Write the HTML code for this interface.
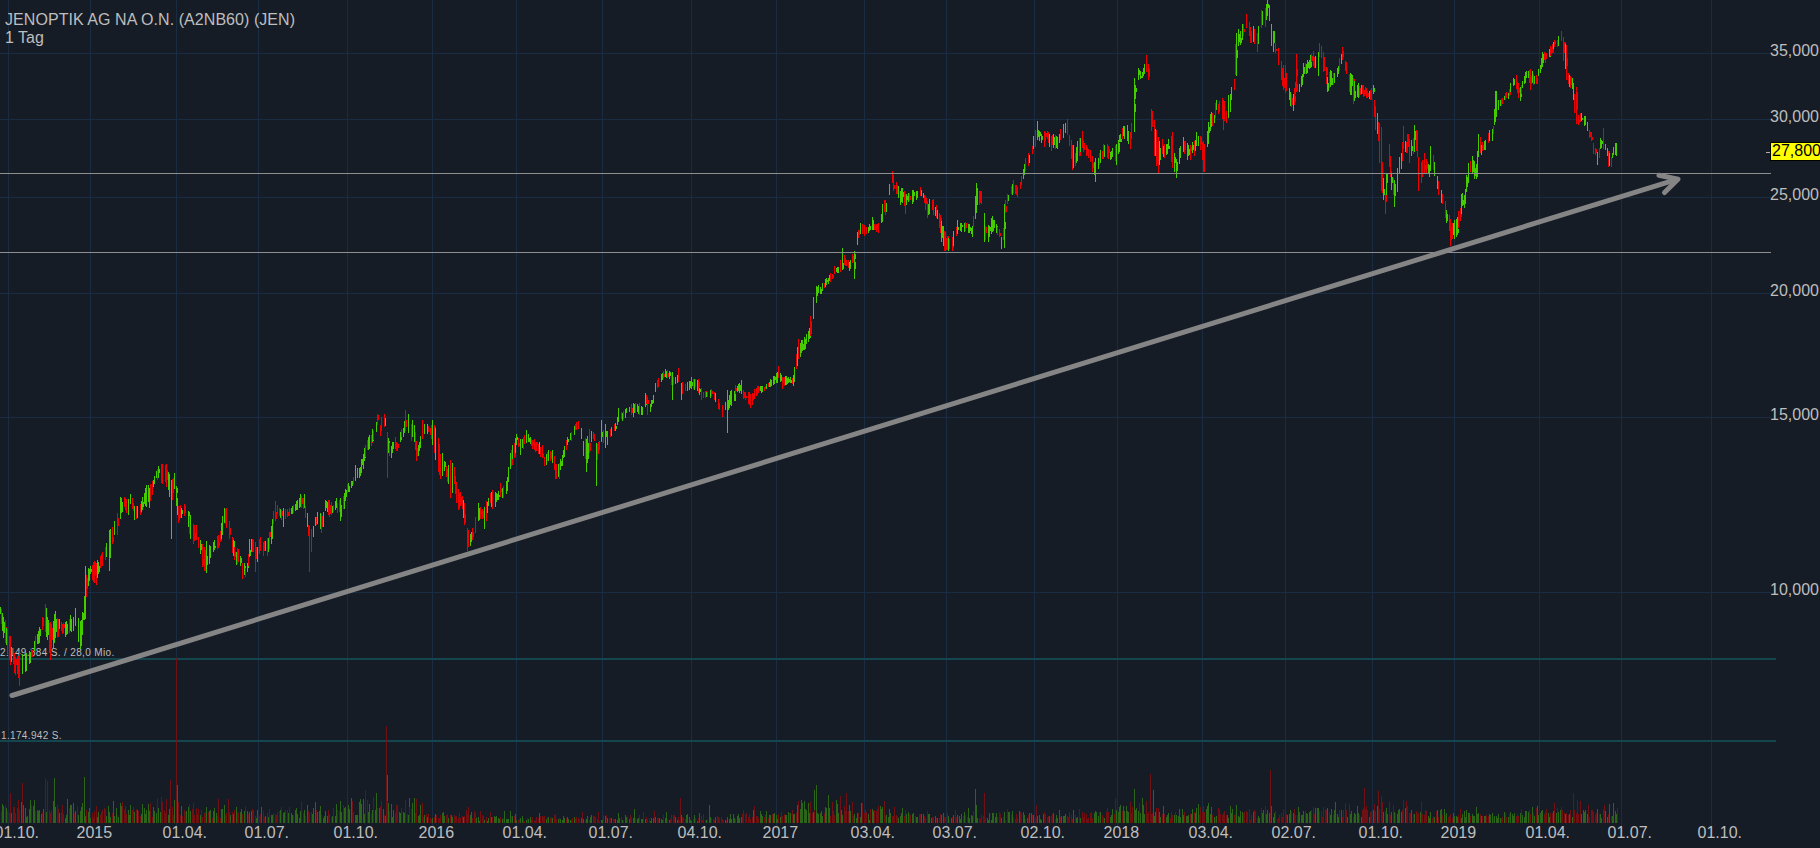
<!DOCTYPE html>
<html><head><meta charset="utf-8"><title>JENOPTIK AG NA O.N. (A2NB60) (JEN)</title>
<style>html,body{margin:0;padding:0;background:#161c26;overflow:hidden}svg{display:block}.g{fill:#44cc00}.r{fill:#ee0000}text{font-family:"Liberation Sans",Arial,sans-serif}</style></head>
<body><svg width="1820" height="848" viewBox="0 0 1820 848" shape-rendering="crispEdges">
<rect width="1820" height="848" fill="#161c26"/><g fill="#1a2c42"><rect x="8" y="0" width="1" height="830"/><rect x="90" y="0" width="1" height="830"/><rect x="176" y="0" width="1" height="830"/><rect x="258" y="0" width="1" height="830"/><rect x="347" y="0" width="1" height="830"/><rect x="432" y="0" width="1" height="830"/><rect x="516" y="0" width="1" height="830"/><rect x="602" y="0" width="1" height="830"/><rect x="691" y="0" width="1" height="830"/><rect x="776" y="0" width="1" height="830"/><rect x="864" y="0" width="1" height="830"/><rect x="946" y="0" width="1" height="830"/><rect x="1034" y="0" width="1" height="830"/><rect x="1117" y="0" width="1" height="830"/><rect x="1202" y="0" width="1" height="830"/><rect x="1285" y="0" width="1" height="830"/><rect x="1372" y="0" width="1" height="830"/><rect x="1454" y="0" width="1" height="830"/><rect x="1539" y="0" width="1" height="830"/><rect x="1621" y="0" width="1" height="830"/><rect x="1711" y="0" width="1" height="830"/><rect x="0" y="53" width="1771" height="1"/><rect x="0" y="119" width="1771" height="1"/><rect x="0" y="197" width="1771" height="1"/><rect x="0" y="293" width="1771" height="1"/><rect x="0" y="417" width="1771" height="1"/><rect x="0" y="592" width="1771" height="1"/></g><g fill="#14464f"><rect x="0" y="658" width="1776" height="2"/><rect x="0" y="740" width="1776" height="2"/></g><g fill="#2c6419"><rect x="2" y="804" width="1" height="19"/><rect x="3" y="806" width="1" height="17"/><rect x="6" y="808" width="1" height="15"/><rect x="11" y="813" width="1" height="10"/><rect x="21" y="802" width="1" height="21"/><rect x="22" y="802" width="1" height="21"/><rect x="23" y="805" width="1" height="18"/><rect x="25" y="808" width="1" height="15"/><rect x="26" y="817" width="1" height="6"/><rect x="27" y="816" width="1" height="7"/><rect x="29" y="809" width="1" height="14"/><rect x="30" y="800" width="1" height="23"/><rect x="33" y="806" width="1" height="17"/><rect x="34" y="800" width="1" height="23"/><rect x="37" y="810" width="1" height="13"/><rect x="38" y="811" width="1" height="12"/><rect x="39" y="810" width="1" height="13"/><rect x="41" y="814" width="1" height="9"/><rect x="43" y="809" width="1" height="14"/><rect x="46" y="812" width="1" height="11"/><rect x="47" y="815" width="1" height="8"/><rect x="53" y="801" width="1" height="22"/><rect x="54" y="778" width="1" height="45"/><rect x="55" y="807" width="1" height="16"/><rect x="59" y="813" width="1" height="10"/><rect x="65" y="818" width="1" height="5"/><rect x="66" y="815" width="1" height="8"/><rect x="67" y="799" width="1" height="24"/><rect x="70" y="805" width="1" height="18"/><rect x="71" y="805" width="1" height="18"/><rect x="73" y="803" width="1" height="20"/><rect x="75" y="811" width="1" height="12"/><rect x="78" y="815" width="1" height="8"/><rect x="80" y="811" width="1" height="12"/><rect x="81" y="807" width="1" height="16"/><rect x="82" y="803" width="1" height="20"/><rect x="84" y="814" width="1" height="9"/><rect x="85" y="816" width="1" height="7"/><rect x="88" y="812" width="1" height="11"/><rect x="89" y="808" width="1" height="15"/><rect x="90" y="818" width="1" height="5"/><rect x="97" y="817" width="1" height="6"/><rect x="98" y="812" width="1" height="11"/><rect x="106" y="816" width="1" height="7"/><rect x="108" y="806" width="1" height="17"/><rect x="109" y="812" width="1" height="11"/><rect x="110" y="817" width="1" height="6"/><rect x="113" y="801" width="1" height="22"/><rect x="114" y="816" width="1" height="7"/><rect x="116" y="808" width="1" height="15"/><rect x="118" y="817" width="1" height="6"/><rect x="120" y="803" width="1" height="20"/><rect x="121" y="806" width="1" height="17"/><rect x="128" y="810" width="1" height="13"/><rect x="129" y="815" width="1" height="8"/><rect x="130" y="805" width="1" height="18"/><rect x="134" y="812" width="1" height="11"/><rect x="137" y="810" width="1" height="13"/><rect x="141" y="814" width="1" height="9"/><rect x="142" y="804" width="1" height="19"/><rect x="144" y="808" width="1" height="15"/><rect x="145" y="814" width="1" height="9"/><rect x="146" y="810" width="1" height="13"/><rect x="148" y="804" width="1" height="19"/><rect x="149" y="811" width="1" height="12"/><rect x="153" y="807" width="1" height="16"/><rect x="154" y="811" width="1" height="12"/><rect x="156" y="813" width="1" height="10"/><rect x="158" y="808" width="1" height="15"/><rect x="160" y="812" width="1" height="11"/><rect x="168" y="815" width="1" height="8"/><rect x="169" y="809" width="1" height="14"/><rect x="174" y="800" width="1" height="23"/><rect x="176" y="800" width="1" height="23"/><rect x="177" y="817" width="1" height="6"/><rect x="181" y="806" width="1" height="17"/><rect x="186" y="811" width="1" height="12"/><rect x="188" y="807" width="1" height="16"/><rect x="190" y="811" width="1" height="12"/><rect x="200" y="815" width="1" height="8"/><rect x="206" y="807" width="1" height="16"/><rect x="209" y="811" width="1" height="12"/><rect x="210" y="810" width="1" height="13"/><rect x="213" y="811" width="1" height="12"/><rect x="214" y="808" width="1" height="15"/><rect x="216" y="813" width="1" height="10"/><rect x="221" y="809" width="1" height="14"/><rect x="222" y="809" width="1" height="14"/><rect x="224" y="805" width="1" height="18"/><rect x="230" y="815" width="1" height="8"/><rect x="233" y="814" width="1" height="9"/><rect x="236" y="807" width="1" height="16"/><rect x="240" y="812" width="1" height="11"/><rect x="241" y="809" width="1" height="14"/><rect x="244" y="811" width="1" height="12"/><rect x="247" y="811" width="1" height="12"/><rect x="249" y="812" width="1" height="11"/><rect x="251" y="811" width="1" height="12"/><rect x="256" y="818" width="1" height="5"/><rect x="257" y="810" width="1" height="13"/><rect x="261" y="807" width="1" height="16"/><rect x="265" y="816" width="1" height="7"/><rect x="268" y="817" width="1" height="6"/><rect x="271" y="815" width="1" height="8"/><rect x="272" y="815" width="1" height="8"/><rect x="280" y="810" width="1" height="13"/><rect x="283" y="813" width="1" height="10"/><rect x="284" y="812" width="1" height="11"/><rect x="288" y="813" width="1" height="10"/><rect x="291" y="813" width="1" height="10"/><rect x="292" y="815" width="1" height="8"/><rect x="295" y="810" width="1" height="13"/><rect x="296" y="808" width="1" height="15"/><rect x="297" y="814" width="1" height="9"/><rect x="299" y="818" width="1" height="5"/><rect x="300" y="811" width="1" height="12"/><rect x="304" y="810" width="1" height="13"/><rect x="307" y="805" width="1" height="18"/><rect x="312" y="814" width="1" height="9"/><rect x="313" y="808" width="1" height="15"/><rect x="315" y="802" width="1" height="21"/><rect x="317" y="812" width="1" height="11"/><rect x="319" y="811" width="1" height="12"/><rect x="320" y="806" width="1" height="17"/><rect x="323" y="818" width="1" height="5"/><rect x="324" y="816" width="1" height="7"/><rect x="325" y="811" width="1" height="12"/><rect x="327" y="816" width="1" height="7"/><rect x="332" y="816" width="1" height="7"/><rect x="335" y="816" width="1" height="7"/><rect x="336" y="804" width="1" height="19"/><rect x="340" y="801" width="1" height="22"/><rect x="341" y="812" width="1" height="11"/><rect x="344" y="808" width="1" height="15"/><rect x="345" y="807" width="1" height="16"/><rect x="348" y="805" width="1" height="18"/><rect x="349" y="809" width="1" height="14"/><rect x="351" y="798" width="1" height="25"/><rect x="355" y="815" width="1" height="8"/><rect x="356" y="815" width="1" height="8"/><rect x="357" y="815" width="1" height="8"/><rect x="359" y="802" width="1" height="21"/><rect x="360" y="799" width="1" height="24"/><rect x="361" y="804" width="1" height="19"/><rect x="363" y="799" width="1" height="24"/><rect x="364" y="814" width="1" height="9"/><rect x="368" y="812" width="1" height="11"/><rect x="369" y="804" width="1" height="19"/><rect x="372" y="810" width="1" height="13"/><rect x="375" y="810" width="1" height="13"/><rect x="376" y="793" width="1" height="30"/><rect x="379" y="808" width="1" height="15"/><rect x="383" y="809" width="1" height="14"/><rect x="385" y="816" width="1" height="7"/><rect x="388" y="803" width="1" height="20"/><rect x="391" y="804" width="1" height="19"/><rect x="392" y="817" width="1" height="6"/><rect x="393" y="810" width="1" height="13"/><rect x="399" y="812" width="1" height="11"/><rect x="400" y="813" width="1" height="10"/><rect x="403" y="812" width="1" height="11"/><rect x="404" y="813" width="1" height="10"/><rect x="408" y="815" width="1" height="8"/><rect x="412" y="803" width="1" height="20"/><rect x="414" y="798" width="1" height="25"/><rect x="418" y="816" width="1" height="7"/><rect x="419" y="815" width="1" height="8"/><rect x="420" y="805" width="1" height="18"/><rect x="424" y="815" width="1" height="8"/><rect x="427" y="817" width="1" height="6"/><rect x="432" y="818" width="1" height="5"/><rect x="435" y="814" width="1" height="9"/><rect x="442" y="813" width="1" height="10"/><rect x="443" y="812" width="1" height="11"/><rect x="444" y="816" width="1" height="7"/><rect x="448" y="818" width="1" height="5"/><rect x="451" y="815" width="1" height="8"/><rect x="452" y="817" width="1" height="6"/><rect x="463" y="817" width="1" height="6"/><rect x="470" y="815" width="1" height="8"/><rect x="471" y="812" width="1" height="11"/><rect x="476" y="818" width="1" height="5"/><rect x="478" y="817" width="1" height="6"/><rect x="479" y="821" width="1" height="2"/><rect x="484" y="820" width="1" height="3"/><rect x="487" y="821" width="1" height="2"/><rect x="488" y="818" width="1" height="5"/><rect x="491" y="817" width="1" height="6"/><rect x="494" y="816" width="1" height="7"/><rect x="495" y="817" width="1" height="6"/><rect x="496" y="816" width="1" height="7"/><rect x="498" y="818" width="1" height="5"/><rect x="499" y="819" width="1" height="4"/><rect x="502" y="819" width="1" height="4"/><rect x="504" y="811" width="1" height="12"/><rect x="506" y="819" width="1" height="4"/><rect x="507" y="819" width="1" height="4"/><rect x="508" y="819" width="1" height="4"/><rect x="510" y="811" width="1" height="12"/><rect x="512" y="816" width="1" height="7"/><rect x="515" y="814" width="1" height="9"/><rect x="516" y="820" width="1" height="3"/><rect x="520" y="818" width="1" height="5"/><rect x="522" y="816" width="1" height="7"/><rect x="526" y="820" width="1" height="3"/><rect x="528" y="819" width="1" height="4"/><rect x="530" y="817" width="1" height="6"/><rect x="539" y="813" width="1" height="10"/><rect x="546" y="819" width="1" height="4"/><rect x="548" y="817" width="1" height="6"/><rect x="552" y="818" width="1" height="5"/><rect x="558" y="819" width="1" height="4"/><rect x="560" y="819" width="1" height="4"/><rect x="562" y="820" width="1" height="3"/><rect x="563" y="816" width="1" height="7"/><rect x="564" y="818" width="1" height="5"/><rect x="567" y="817" width="1" height="6"/><rect x="568" y="819" width="1" height="4"/><rect x="570" y="820" width="1" height="3"/><rect x="574" y="817" width="1" height="6"/><rect x="581" y="818" width="1" height="5"/><rect x="583" y="819" width="1" height="4"/><rect x="586" y="819" width="1" height="4"/><rect x="587" y="816" width="1" height="7"/><rect x="590" y="817" width="1" height="6"/><rect x="591" y="815" width="1" height="8"/><rect x="601" y="820" width="1" height="3"/><rect x="602" y="820" width="1" height="3"/><rect x="605" y="816" width="1" height="7"/><rect x="607" y="818" width="1" height="5"/><rect x="611" y="818" width="1" height="5"/><rect x="615" y="819" width="1" height="4"/><rect x="617" y="820" width="1" height="3"/><rect x="618" y="813" width="1" height="10"/><rect x="619" y="818" width="1" height="5"/><rect x="622" y="820" width="1" height="3"/><rect x="625" y="815" width="1" height="8"/><rect x="626" y="817" width="1" height="6"/><rect x="629" y="819" width="1" height="4"/><rect x="633" y="818" width="1" height="5"/><rect x="634" y="809" width="1" height="14"/><rect x="637" y="819" width="1" height="4"/><rect x="638" y="818" width="1" height="5"/><rect x="641" y="819" width="1" height="4"/><rect x="642" y="819" width="1" height="4"/><rect x="645" y="819" width="1" height="4"/><rect x="650" y="821" width="1" height="2"/><rect x="651" y="818" width="1" height="5"/><rect x="653" y="818" width="1" height="5"/><rect x="655" y="817" width="1" height="6"/><rect x="659" y="818" width="1" height="5"/><rect x="661" y="819" width="1" height="4"/><rect x="662" y="820" width="1" height="3"/><rect x="665" y="818" width="1" height="5"/><rect x="666" y="812" width="1" height="11"/><rect x="669" y="820" width="1" height="3"/><rect x="675" y="817" width="1" height="6"/><rect x="677" y="820" width="1" height="3"/><rect x="681" y="815" width="1" height="8"/><rect x="686" y="815" width="1" height="8"/><rect x="687" y="814" width="1" height="9"/><rect x="689" y="817" width="1" height="6"/><rect x="690" y="820" width="1" height="3"/><rect x="691" y="821" width="1" height="2"/><rect x="694" y="815" width="1" height="8"/><rect x="697" y="821" width="1" height="2"/><rect x="699" y="813" width="1" height="10"/><rect x="706" y="820" width="1" height="3"/><rect x="709" y="805" width="1" height="18"/><rect x="710" y="817" width="1" height="6"/><rect x="715" y="817" width="1" height="6"/><rect x="725" y="820" width="1" height="3"/><rect x="727" y="817" width="1" height="6"/><rect x="729" y="819" width="1" height="4"/><rect x="730" y="814" width="1" height="9"/><rect x="731" y="819" width="1" height="4"/><rect x="733" y="814" width="1" height="9"/><rect x="734" y="818" width="1" height="5"/><rect x="737" y="816" width="1" height="7"/><rect x="738" y="814" width="1" height="9"/><rect x="739" y="818" width="1" height="5"/><rect x="741" y="817" width="1" height="6"/><rect x="753" y="810" width="1" height="13"/><rect x="760" y="811" width="1" height="12"/><rect x="761" y="814" width="1" height="9"/><rect x="762" y="816" width="1" height="7"/><rect x="766" y="811" width="1" height="12"/><rect x="769" y="815" width="1" height="8"/><rect x="770" y="815" width="1" height="8"/><rect x="773" y="814" width="1" height="9"/><rect x="774" y="813" width="1" height="10"/><rect x="776" y="815" width="1" height="8"/><rect x="777" y="819" width="1" height="4"/><rect x="780" y="817" width="1" height="6"/><rect x="785" y="815" width="1" height="8"/><rect x="786" y="815" width="1" height="8"/><rect x="788" y="812" width="1" height="11"/><rect x="790" y="813" width="1" height="10"/><rect x="793" y="814" width="1" height="9"/><rect x="794" y="814" width="1" height="9"/><rect x="797" y="805" width="1" height="18"/><rect x="800" y="809" width="1" height="14"/><rect x="801" y="800" width="1" height="23"/><rect x="802" y="803" width="1" height="20"/><rect x="804" y="801" width="1" height="22"/><rect x="805" y="809" width="1" height="14"/><rect x="806" y="810" width="1" height="13"/><rect x="808" y="803" width="1" height="20"/><rect x="809" y="813" width="1" height="10"/><rect x="813" y="812" width="1" height="11"/><rect x="816" y="785" width="1" height="38"/><rect x="817" y="813" width="1" height="10"/><rect x="818" y="814" width="1" height="9"/><rect x="820" y="813" width="1" height="10"/><rect x="821" y="811" width="1" height="12"/><rect x="822" y="816" width="1" height="7"/><rect x="825" y="807" width="1" height="16"/><rect x="826" y="808" width="1" height="15"/><rect x="828" y="795" width="1" height="28"/><rect x="829" y="808" width="1" height="15"/><rect x="836" y="800" width="1" height="23"/><rect x="837" y="804" width="1" height="19"/><rect x="838" y="813" width="1" height="10"/><rect x="841" y="810" width="1" height="13"/><rect x="842" y="815" width="1" height="8"/><rect x="849" y="805" width="1" height="18"/><rect x="850" y="811" width="1" height="12"/><rect x="854" y="814" width="1" height="9"/><rect x="856" y="818" width="1" height="5"/><rect x="857" y="813" width="1" height="10"/><rect x="860" y="817" width="1" height="6"/><rect x="861" y="803" width="1" height="20"/><rect x="868" y="814" width="1" height="9"/><rect x="869" y="820" width="1" height="3"/><rect x="872" y="809" width="1" height="14"/><rect x="873" y="811" width="1" height="12"/><rect x="880" y="806" width="1" height="17"/><rect x="881" y="809" width="1" height="14"/><rect x="882" y="807" width="1" height="16"/><rect x="886" y="815" width="1" height="8"/><rect x="888" y="817" width="1" height="6"/><rect x="889" y="809" width="1" height="14"/><rect x="890" y="813" width="1" height="10"/><rect x="898" y="818" width="1" height="5"/><rect x="900" y="816" width="1" height="7"/><rect x="901" y="813" width="1" height="10"/><rect x="902" y="808" width="1" height="15"/><rect x="906" y="814" width="1" height="9"/><rect x="908" y="812" width="1" height="11"/><rect x="912" y="814" width="1" height="9"/><rect x="913" y="813" width="1" height="10"/><rect x="916" y="817" width="1" height="6"/><rect x="917" y="817" width="1" height="6"/><rect x="921" y="814" width="1" height="9"/><rect x="923" y="814" width="1" height="9"/><rect x="928" y="814" width="1" height="9"/><rect x="929" y="814" width="1" height="9"/><rect x="931" y="818" width="1" height="5"/><rect x="935" y="816" width="1" height="7"/><rect x="937" y="818" width="1" height="5"/><rect x="941" y="815" width="1" height="8"/><rect x="943" y="813" width="1" height="10"/><rect x="948" y="816" width="1" height="7"/><rect x="951" y="818" width="1" height="5"/><rect x="953" y="815" width="1" height="8"/><rect x="957" y="815" width="1" height="8"/><rect x="959" y="816" width="1" height="7"/><rect x="960" y="819" width="1" height="4"/><rect x="961" y="814" width="1" height="9"/><rect x="964" y="812" width="1" height="11"/><rect x="968" y="808" width="1" height="15"/><rect x="969" y="818" width="1" height="5"/><rect x="971" y="815" width="1" height="8"/><rect x="972" y="816" width="1" height="7"/><rect x="975" y="810" width="1" height="13"/><rect x="976" y="805" width="1" height="18"/><rect x="977" y="818" width="1" height="5"/><rect x="984" y="816" width="1" height="7"/><rect x="987" y="818" width="1" height="5"/><rect x="988" y="820" width="1" height="3"/><rect x="989" y="813" width="1" height="10"/><rect x="991" y="820" width="1" height="3"/><rect x="992" y="813" width="1" height="10"/><rect x="993" y="813" width="1" height="10"/><rect x="995" y="817" width="1" height="6"/><rect x="996" y="813" width="1" height="10"/><rect x="1001" y="818" width="1" height="5"/><rect x="1004" y="812" width="1" height="11"/><rect x="1008" y="812" width="1" height="11"/><rect x="1009" y="812" width="1" height="11"/><rect x="1012" y="811" width="1" height="12"/><rect x="1019" y="811" width="1" height="12"/><rect x="1023" y="812" width="1" height="11"/><rect x="1024" y="815" width="1" height="8"/><rect x="1027" y="818" width="1" height="5"/><rect x="1029" y="813" width="1" height="10"/><rect x="1031" y="813" width="1" height="10"/><rect x="1033" y="815" width="1" height="8"/><rect x="1037" y="816" width="1" height="7"/><rect x="1039" y="815" width="1" height="8"/><rect x="1040" y="819" width="1" height="4"/><rect x="1041" y="820" width="1" height="3"/><rect x="1043" y="814" width="1" height="9"/><rect x="1049" y="816" width="1" height="7"/><rect x="1053" y="813" width="1" height="10"/><rect x="1056" y="815" width="1" height="8"/><rect x="1057" y="818" width="1" height="5"/><rect x="1059" y="810" width="1" height="13"/><rect x="1061" y="816" width="1" height="7"/><rect x="1063" y="816" width="1" height="7"/><rect x="1064" y="816" width="1" height="7"/><rect x="1065" y="814" width="1" height="9"/><rect x="1073" y="810" width="1" height="13"/><rect x="1076" y="818" width="1" height="5"/><rect x="1077" y="817" width="1" height="6"/><rect x="1080" y="818" width="1" height="5"/><rect x="1094" y="813" width="1" height="10"/><rect x="1095" y="811" width="1" height="12"/><rect x="1096" y="812" width="1" height="11"/><rect x="1098" y="816" width="1" height="7"/><rect x="1100" y="812" width="1" height="11"/><rect x="1104" y="818" width="1" height="5"/><rect x="1110" y="817" width="1" height="6"/><rect x="1111" y="815" width="1" height="8"/><rect x="1112" y="809" width="1" height="14"/><rect x="1116" y="810" width="1" height="13"/><rect x="1118" y="812" width="1" height="11"/><rect x="1119" y="807" width="1" height="16"/><rect x="1120" y="805" width="1" height="18"/><rect x="1123" y="806" width="1" height="17"/><rect x="1124" y="811" width="1" height="12"/><rect x="1126" y="806" width="1" height="17"/><rect x="1127" y="811" width="1" height="12"/><rect x="1128" y="812" width="1" height="11"/><rect x="1134" y="811" width="1" height="12"/><rect x="1135" y="810" width="1" height="13"/><rect x="1136" y="808" width="1" height="15"/><rect x="1138" y="811" width="1" height="12"/><rect x="1140" y="813" width="1" height="10"/><rect x="1142" y="798" width="1" height="25"/><rect x="1143" y="805" width="1" height="18"/><rect x="1144" y="814" width="1" height="9"/><rect x="1154" y="816" width="1" height="7"/><rect x="1155" y="812" width="1" height="11"/><rect x="1159" y="812" width="1" height="11"/><rect x="1160" y="817" width="1" height="6"/><rect x="1163" y="806" width="1" height="17"/><rect x="1166" y="817" width="1" height="6"/><rect x="1167" y="815" width="1" height="8"/><rect x="1168" y="813" width="1" height="10"/><rect x="1174" y="815" width="1" height="8"/><rect x="1176" y="815" width="1" height="8"/><rect x="1178" y="816" width="1" height="7"/><rect x="1179" y="809" width="1" height="14"/><rect x="1180" y="817" width="1" height="6"/><rect x="1182" y="809" width="1" height="14"/><rect x="1183" y="815" width="1" height="8"/><rect x="1186" y="816" width="1" height="7"/><rect x="1187" y="816" width="1" height="7"/><rect x="1188" y="815" width="1" height="8"/><rect x="1191" y="814" width="1" height="9"/><rect x="1192" y="809" width="1" height="14"/><rect x="1195" y="813" width="1" height="10"/><rect x="1196" y="808" width="1" height="15"/><rect x="1198" y="804" width="1" height="19"/><rect x="1206" y="809" width="1" height="14"/><rect x="1207" y="806" width="1" height="17"/><rect x="1208" y="803" width="1" height="20"/><rect x="1210" y="814" width="1" height="9"/><rect x="1211" y="807" width="1" height="16"/><rect x="1214" y="817" width="1" height="6"/><rect x="1216" y="816" width="1" height="7"/><rect x="1227" y="815" width="1" height="8"/><rect x="1228" y="818" width="1" height="5"/><rect x="1230" y="806" width="1" height="17"/><rect x="1231" y="813" width="1" height="10"/><rect x="1232" y="809" width="1" height="14"/><rect x="1236" y="805" width="1" height="18"/><rect x="1238" y="816" width="1" height="7"/><rect x="1239" y="817" width="1" height="6"/><rect x="1240" y="811" width="1" height="12"/><rect x="1242" y="812" width="1" height="11"/><rect x="1253" y="812" width="1" height="11"/><rect x="1258" y="816" width="1" height="7"/><rect x="1259" y="818" width="1" height="5"/><rect x="1262" y="813" width="1" height="10"/><rect x="1263" y="810" width="1" height="13"/><rect x="1266" y="814" width="1" height="9"/><rect x="1267" y="810" width="1" height="13"/><rect x="1269" y="813" width="1" height="10"/><rect x="1270" y="808" width="1" height="15"/><rect x="1271" y="806" width="1" height="17"/><rect x="1273" y="817" width="1" height="6"/><rect x="1274" y="813" width="1" height="10"/><rect x="1287" y="815" width="1" height="8"/><rect x="1289" y="814" width="1" height="9"/><rect x="1290" y="810" width="1" height="13"/><rect x="1293" y="813" width="1" height="10"/><rect x="1298" y="807" width="1" height="16"/><rect x="1299" y="812" width="1" height="11"/><rect x="1301" y="815" width="1" height="8"/><rect x="1302" y="815" width="1" height="8"/><rect x="1303" y="811" width="1" height="12"/><rect x="1306" y="813" width="1" height="10"/><rect x="1307" y="814" width="1" height="9"/><rect x="1309" y="812" width="1" height="11"/><rect x="1310" y="811" width="1" height="12"/><rect x="1315" y="808" width="1" height="15"/><rect x="1317" y="808" width="1" height="15"/><rect x="1318" y="808" width="1" height="15"/><rect x="1327" y="808" width="1" height="15"/><rect x="1330" y="815" width="1" height="8"/><rect x="1331" y="809" width="1" height="14"/><rect x="1334" y="810" width="1" height="13"/><rect x="1335" y="802" width="1" height="21"/><rect x="1337" y="814" width="1" height="9"/><rect x="1338" y="817" width="1" height="6"/><rect x="1341" y="810" width="1" height="13"/><rect x="1347" y="817" width="1" height="6"/><rect x="1350" y="814" width="1" height="9"/><rect x="1351" y="811" width="1" height="12"/><rect x="1354" y="813" width="1" height="10"/><rect x="1355" y="814" width="1" height="9"/><rect x="1357" y="806" width="1" height="17"/><rect x="1358" y="813" width="1" height="10"/><rect x="1361" y="817" width="1" height="6"/><rect x="1369" y="817" width="1" height="6"/><rect x="1373" y="810" width="1" height="13"/><rect x="1377" y="806" width="1" height="17"/><rect x="1383" y="812" width="1" height="11"/><rect x="1386" y="808" width="1" height="15"/><rect x="1387" y="814" width="1" height="9"/><rect x="1391" y="812" width="1" height="11"/><rect x="1394" y="812" width="1" height="11"/><rect x="1397" y="814" width="1" height="9"/><rect x="1398" y="810" width="1" height="13"/><rect x="1399" y="809" width="1" height="14"/><rect x="1401" y="812" width="1" height="11"/><rect x="1405" y="808" width="1" height="15"/><rect x="1411" y="810" width="1" height="13"/><rect x="1414" y="814" width="1" height="9"/><rect x="1420" y="812" width="1" height="11"/><rect x="1428" y="816" width="1" height="7"/><rect x="1429" y="818" width="1" height="5"/><rect x="1430" y="812" width="1" height="11"/><rect x="1434" y="817" width="1" height="6"/><rect x="1437" y="810" width="1" height="13"/><rect x="1440" y="810" width="1" height="13"/><rect x="1441" y="809" width="1" height="14"/><rect x="1444" y="809" width="1" height="14"/><rect x="1446" y="813" width="1" height="10"/><rect x="1453" y="813" width="1" height="10"/><rect x="1454" y="816" width="1" height="7"/><rect x="1456" y="816" width="1" height="7"/><rect x="1457" y="817" width="1" height="6"/><rect x="1461" y="818" width="1" height="5"/><rect x="1462" y="814" width="1" height="9"/><rect x="1464" y="811" width="1" height="12"/><rect x="1465" y="817" width="1" height="6"/><rect x="1466" y="810" width="1" height="13"/><rect x="1468" y="813" width="1" height="10"/><rect x="1469" y="813" width="1" height="10"/><rect x="1472" y="814" width="1" height="9"/><rect x="1473" y="816" width="1" height="7"/><rect x="1474" y="816" width="1" height="7"/><rect x="1476" y="807" width="1" height="16"/><rect x="1477" y="814" width="1" height="9"/><rect x="1478" y="813" width="1" height="10"/><rect x="1481" y="816" width="1" height="7"/><rect x="1484" y="816" width="1" height="7"/><rect x="1485" y="816" width="1" height="7"/><rect x="1489" y="814" width="1" height="9"/><rect x="1490" y="815" width="1" height="8"/><rect x="1492" y="813" width="1" height="10"/><rect x="1494" y="816" width="1" height="7"/><rect x="1496" y="816" width="1" height="7"/><rect x="1497" y="818" width="1" height="5"/><rect x="1498" y="814" width="1" height="9"/><rect x="1500" y="818" width="1" height="5"/><rect x="1504" y="812" width="1" height="11"/><rect x="1508" y="817" width="1" height="6"/><rect x="1510" y="812" width="1" height="11"/><rect x="1512" y="814" width="1" height="9"/><rect x="1513" y="816" width="1" height="7"/><rect x="1514" y="813" width="1" height="10"/><rect x="1520" y="813" width="1" height="10"/><rect x="1522" y="815" width="1" height="8"/><rect x="1524" y="817" width="1" height="6"/><rect x="1525" y="811" width="1" height="12"/><rect x="1526" y="811" width="1" height="12"/><rect x="1528" y="812" width="1" height="11"/><rect x="1532" y="807" width="1" height="16"/><rect x="1534" y="816" width="1" height="7"/><rect x="1537" y="806" width="1" height="17"/><rect x="1538" y="815" width="1" height="8"/><rect x="1540" y="813" width="1" height="10"/><rect x="1541" y="811" width="1" height="12"/><rect x="1542" y="810" width="1" height="13"/><rect x="1548" y="813" width="1" height="10"/><rect x="1549" y="817" width="1" height="6"/><rect x="1553" y="811" width="1" height="12"/><rect x="1556" y="813" width="1" height="10"/><rect x="1558" y="812" width="1" height="11"/><rect x="1560" y="810" width="1" height="13"/><rect x="1565" y="814" width="1" height="9"/><rect x="1569" y="814" width="1" height="9"/><rect x="1572" y="817" width="1" height="6"/><rect x="1573" y="809" width="1" height="14"/><rect x="1581" y="814" width="1" height="9"/><rect x="1583" y="810" width="1" height="13"/><rect x="1584" y="812" width="1" height="11"/><rect x="1585" y="810" width="1" height="13"/><rect x="1587" y="814" width="1" height="9"/><rect x="1597" y="809" width="1" height="14"/><rect x="1600" y="814" width="1" height="9"/><rect x="1601" y="818" width="1" height="5"/><rect x="1605" y="811" width="1" height="12"/><rect x="1607" y="817" width="1" height="6"/><rect x="1609" y="804" width="1" height="19"/><rect x="1612" y="816" width="1" height="7"/><rect x="1613" y="808" width="1" height="15"/><rect x="1615" y="811" width="1" height="12"/><rect x="1616" y="814" width="1" height="9"/><rect x="387" y="775" width="1" height="48"/><rect x="84" y="777" width="1" height="46"/><rect x="177" y="785" width="1" height="38"/><rect x="409" y="798" width="1" height="25"/><rect x="814" y="790" width="1" height="33"/><rect x="975" y="789" width="1" height="34"/><rect x="1134" y="789" width="1" height="34"/><rect x="1153" y="790" width="1" height="33"/><rect x="1613" y="803" width="1" height="20"/></g><g fill="#701012"><rect x="1" y="812" width="1" height="11"/><rect x="5" y="805" width="1" height="18"/><rect x="7" y="811" width="1" height="12"/><rect x="9" y="813" width="1" height="10"/><rect x="10" y="793" width="1" height="30"/><rect x="13" y="807" width="1" height="16"/><rect x="14" y="807" width="1" height="16"/><rect x="15" y="813" width="1" height="10"/><rect x="17" y="808" width="1" height="15"/><rect x="18" y="800" width="1" height="23"/><rect x="19" y="810" width="1" height="13"/><rect x="31" y="805" width="1" height="18"/><rect x="35" y="811" width="1" height="12"/><rect x="42" y="812" width="1" height="11"/><rect x="45" y="778" width="1" height="45"/><rect x="49" y="810" width="1" height="13"/><rect x="50" y="813" width="1" height="10"/><rect x="51" y="811" width="1" height="12"/><rect x="57" y="805" width="1" height="18"/><rect x="58" y="809" width="1" height="14"/><rect x="61" y="812" width="1" height="11"/><rect x="62" y="805" width="1" height="18"/><rect x="63" y="814" width="1" height="9"/><rect x="69" y="808" width="1" height="15"/><rect x="74" y="813" width="1" height="10"/><rect x="77" y="806" width="1" height="17"/><rect x="86" y="810" width="1" height="13"/><rect x="92" y="813" width="1" height="10"/><rect x="93" y="817" width="1" height="6"/><rect x="94" y="811" width="1" height="12"/><rect x="96" y="806" width="1" height="17"/><rect x="100" y="815" width="1" height="8"/><rect x="101" y="812" width="1" height="11"/><rect x="102" y="810" width="1" height="13"/><rect x="104" y="808" width="1" height="15"/><rect x="105" y="809" width="1" height="14"/><rect x="112" y="813" width="1" height="10"/><rect x="117" y="815" width="1" height="8"/><rect x="122" y="802" width="1" height="21"/><rect x="124" y="809" width="1" height="14"/><rect x="125" y="806" width="1" height="17"/><rect x="126" y="814" width="1" height="9"/><rect x="132" y="810" width="1" height="13"/><rect x="133" y="807" width="1" height="16"/><rect x="136" y="809" width="1" height="14"/><rect x="138" y="811" width="1" height="12"/><rect x="140" y="816" width="1" height="7"/><rect x="150" y="803" width="1" height="20"/><rect x="152" y="817" width="1" height="6"/><rect x="157" y="798" width="1" height="25"/><rect x="161" y="797" width="1" height="26"/><rect x="162" y="802" width="1" height="21"/><rect x="164" y="810" width="1" height="13"/><rect x="165" y="813" width="1" height="10"/><rect x="166" y="799" width="1" height="24"/><rect x="170" y="805" width="1" height="18"/><rect x="172" y="807" width="1" height="16"/><rect x="173" y="815" width="1" height="8"/><rect x="178" y="802" width="1" height="21"/><rect x="180" y="815" width="1" height="8"/><rect x="182" y="816" width="1" height="7"/><rect x="184" y="810" width="1" height="13"/><rect x="185" y="812" width="1" height="11"/><rect x="189" y="804" width="1" height="19"/><rect x="192" y="809" width="1" height="14"/><rect x="193" y="803" width="1" height="20"/><rect x="194" y="815" width="1" height="8"/><rect x="196" y="808" width="1" height="15"/><rect x="197" y="814" width="1" height="9"/><rect x="198" y="809" width="1" height="14"/><rect x="201" y="810" width="1" height="13"/><rect x="202" y="817" width="1" height="6"/><rect x="204" y="813" width="1" height="10"/><rect x="205" y="812" width="1" height="11"/><rect x="208" y="812" width="1" height="11"/><rect x="212" y="818" width="1" height="5"/><rect x="217" y="816" width="1" height="7"/><rect x="218" y="799" width="1" height="24"/><rect x="220" y="818" width="1" height="5"/><rect x="225" y="815" width="1" height="8"/><rect x="226" y="813" width="1" height="10"/><rect x="228" y="799" width="1" height="24"/><rect x="229" y="812" width="1" height="11"/><rect x="232" y="812" width="1" height="11"/><rect x="234" y="810" width="1" height="13"/><rect x="237" y="812" width="1" height="11"/><rect x="238" y="813" width="1" height="10"/><rect x="242" y="814" width="1" height="9"/><rect x="245" y="806" width="1" height="17"/><rect x="248" y="814" width="1" height="9"/><rect x="252" y="809" width="1" height="14"/><rect x="253" y="810" width="1" height="13"/><rect x="255" y="816" width="1" height="7"/><rect x="259" y="816" width="1" height="7"/><rect x="260" y="814" width="1" height="9"/><rect x="263" y="811" width="1" height="12"/><rect x="264" y="817" width="1" height="6"/><rect x="267" y="813" width="1" height="10"/><rect x="269" y="809" width="1" height="14"/><rect x="273" y="813" width="1" height="10"/><rect x="275" y="814" width="1" height="9"/><rect x="276" y="815" width="1" height="8"/><rect x="277" y="812" width="1" height="11"/><rect x="279" y="811" width="1" height="12"/><rect x="281" y="807" width="1" height="16"/><rect x="285" y="810" width="1" height="13"/><rect x="287" y="810" width="1" height="13"/><rect x="289" y="807" width="1" height="16"/><rect x="293" y="815" width="1" height="8"/><rect x="301" y="802" width="1" height="21"/><rect x="303" y="813" width="1" height="10"/><rect x="305" y="816" width="1" height="7"/><rect x="308" y="811" width="1" height="12"/><rect x="309" y="813" width="1" height="10"/><rect x="311" y="812" width="1" height="11"/><rect x="316" y="810" width="1" height="13"/><rect x="321" y="815" width="1" height="8"/><rect x="328" y="810" width="1" height="13"/><rect x="329" y="814" width="1" height="9"/><rect x="331" y="817" width="1" height="6"/><rect x="333" y="808" width="1" height="15"/><rect x="337" y="810" width="1" height="13"/><rect x="339" y="811" width="1" height="12"/><rect x="343" y="805" width="1" height="18"/><rect x="347" y="809" width="1" height="14"/><rect x="352" y="801" width="1" height="22"/><rect x="353" y="812" width="1" height="11"/><rect x="365" y="790" width="1" height="33"/><rect x="367" y="800" width="1" height="23"/><rect x="371" y="814" width="1" height="9"/><rect x="373" y="797" width="1" height="26"/><rect x="377" y="808" width="1" height="15"/><rect x="380" y="806" width="1" height="17"/><rect x="381" y="801" width="1" height="22"/><rect x="384" y="815" width="1" height="8"/><rect x="387" y="801" width="1" height="22"/><rect x="389" y="811" width="1" height="12"/><rect x="395" y="813" width="1" height="10"/><rect x="396" y="805" width="1" height="18"/><rect x="397" y="805" width="1" height="18"/><rect x="401" y="808" width="1" height="15"/><rect x="405" y="800" width="1" height="23"/><rect x="407" y="814" width="1" height="9"/><rect x="409" y="807" width="1" height="16"/><rect x="411" y="809" width="1" height="14"/><rect x="415" y="813" width="1" height="10"/><rect x="416" y="799" width="1" height="24"/><rect x="422" y="803" width="1" height="20"/><rect x="423" y="817" width="1" height="6"/><rect x="426" y="814" width="1" height="9"/><rect x="428" y="814" width="1" height="9"/><rect x="430" y="818" width="1" height="5"/><rect x="431" y="819" width="1" height="4"/><rect x="434" y="817" width="1" height="6"/><rect x="436" y="815" width="1" height="8"/><rect x="438" y="818" width="1" height="5"/><rect x="439" y="818" width="1" height="5"/><rect x="440" y="815" width="1" height="8"/><rect x="446" y="815" width="1" height="8"/><rect x="447" y="814" width="1" height="9"/><rect x="450" y="815" width="1" height="8"/><rect x="454" y="815" width="1" height="8"/><rect x="455" y="816" width="1" height="7"/><rect x="456" y="816" width="1" height="7"/><rect x="458" y="818" width="1" height="5"/><rect x="459" y="813" width="1" height="10"/><rect x="460" y="818" width="1" height="5"/><rect x="462" y="816" width="1" height="7"/><rect x="464" y="816" width="1" height="7"/><rect x="466" y="810" width="1" height="13"/><rect x="467" y="814" width="1" height="9"/><rect x="468" y="807" width="1" height="16"/><rect x="472" y="818" width="1" height="5"/><rect x="474" y="811" width="1" height="12"/><rect x="475" y="813" width="1" height="10"/><rect x="480" y="811" width="1" height="12"/><rect x="482" y="815" width="1" height="8"/><rect x="483" y="816" width="1" height="7"/><rect x="486" y="817" width="1" height="6"/><rect x="490" y="812" width="1" height="11"/><rect x="492" y="817" width="1" height="6"/><rect x="500" y="817" width="1" height="6"/><rect x="503" y="818" width="1" height="5"/><rect x="511" y="816" width="1" height="7"/><rect x="514" y="816" width="1" height="7"/><rect x="518" y="820" width="1" height="3"/><rect x="519" y="819" width="1" height="4"/><rect x="523" y="819" width="1" height="4"/><rect x="524" y="821" width="1" height="2"/><rect x="527" y="818" width="1" height="5"/><rect x="531" y="820" width="1" height="3"/><rect x="532" y="817" width="1" height="6"/><rect x="534" y="821" width="1" height="2"/><rect x="535" y="820" width="1" height="3"/><rect x="536" y="817" width="1" height="6"/><rect x="538" y="818" width="1" height="5"/><rect x="540" y="816" width="1" height="7"/><rect x="542" y="816" width="1" height="7"/><rect x="543" y="817" width="1" height="6"/><rect x="544" y="816" width="1" height="7"/><rect x="547" y="817" width="1" height="6"/><rect x="550" y="818" width="1" height="5"/><rect x="551" y="817" width="1" height="6"/><rect x="554" y="815" width="1" height="8"/><rect x="555" y="814" width="1" height="9"/><rect x="556" y="819" width="1" height="4"/><rect x="559" y="818" width="1" height="5"/><rect x="566" y="818" width="1" height="5"/><rect x="571" y="820" width="1" height="3"/><rect x="572" y="818" width="1" height="5"/><rect x="575" y="819" width="1" height="4"/><rect x="576" y="817" width="1" height="6"/><rect x="578" y="818" width="1" height="5"/><rect x="579" y="819" width="1" height="4"/><rect x="582" y="812" width="1" height="11"/><rect x="585" y="820" width="1" height="3"/><rect x="589" y="820" width="1" height="3"/><rect x="593" y="816" width="1" height="7"/><rect x="594" y="816" width="1" height="7"/><rect x="595" y="817" width="1" height="6"/><rect x="597" y="819" width="1" height="4"/><rect x="598" y="812" width="1" height="11"/><rect x="599" y="821" width="1" height="2"/><rect x="603" y="815" width="1" height="8"/><rect x="606" y="815" width="1" height="8"/><rect x="609" y="818" width="1" height="5"/><rect x="610" y="818" width="1" height="5"/><rect x="613" y="819" width="1" height="4"/><rect x="614" y="819" width="1" height="4"/><rect x="621" y="817" width="1" height="6"/><rect x="623" y="820" width="1" height="3"/><rect x="627" y="817" width="1" height="6"/><rect x="630" y="815" width="1" height="8"/><rect x="631" y="817" width="1" height="6"/><rect x="635" y="818" width="1" height="5"/><rect x="639" y="815" width="1" height="8"/><rect x="643" y="812" width="1" height="11"/><rect x="646" y="817" width="1" height="6"/><rect x="647" y="819" width="1" height="4"/><rect x="649" y="818" width="1" height="5"/><rect x="654" y="811" width="1" height="12"/><rect x="657" y="818" width="1" height="5"/><rect x="658" y="818" width="1" height="5"/><rect x="663" y="815" width="1" height="8"/><rect x="667" y="819" width="1" height="4"/><rect x="670" y="819" width="1" height="4"/><rect x="671" y="815" width="1" height="8"/><rect x="673" y="815" width="1" height="8"/><rect x="674" y="815" width="1" height="8"/><rect x="678" y="817" width="1" height="6"/><rect x="679" y="820" width="1" height="3"/><rect x="682" y="817" width="1" height="6"/><rect x="683" y="818" width="1" height="5"/><rect x="685" y="819" width="1" height="4"/><rect x="693" y="819" width="1" height="4"/><rect x="695" y="818" width="1" height="5"/><rect x="698" y="818" width="1" height="5"/><rect x="701" y="816" width="1" height="7"/><rect x="702" y="820" width="1" height="3"/><rect x="703" y="814" width="1" height="9"/><rect x="705" y="820" width="1" height="3"/><rect x="707" y="819" width="1" height="4"/><rect x="711" y="818" width="1" height="5"/><rect x="713" y="819" width="1" height="4"/><rect x="714" y="820" width="1" height="3"/><rect x="717" y="816" width="1" height="7"/><rect x="718" y="817" width="1" height="6"/><rect x="719" y="818" width="1" height="5"/><rect x="721" y="817" width="1" height="6"/><rect x="722" y="819" width="1" height="4"/><rect x="723" y="820" width="1" height="3"/><rect x="726" y="820" width="1" height="3"/><rect x="735" y="819" width="1" height="4"/><rect x="742" y="814" width="1" height="9"/><rect x="743" y="810" width="1" height="13"/><rect x="745" y="814" width="1" height="9"/><rect x="746" y="813" width="1" height="10"/><rect x="748" y="817" width="1" height="6"/><rect x="749" y="814" width="1" height="9"/><rect x="750" y="819" width="1" height="4"/><rect x="752" y="817" width="1" height="6"/><rect x="754" y="806" width="1" height="17"/><rect x="756" y="816" width="1" height="7"/><rect x="757" y="816" width="1" height="7"/><rect x="758" y="818" width="1" height="5"/><rect x="764" y="817" width="1" height="6"/><rect x="765" y="815" width="1" height="8"/><rect x="768" y="818" width="1" height="5"/><rect x="772" y="814" width="1" height="9"/><rect x="778" y="814" width="1" height="9"/><rect x="781" y="812" width="1" height="11"/><rect x="782" y="816" width="1" height="7"/><rect x="784" y="814" width="1" height="9"/><rect x="789" y="813" width="1" height="10"/><rect x="792" y="810" width="1" height="13"/><rect x="796" y="813" width="1" height="10"/><rect x="798" y="801" width="1" height="22"/><rect x="810" y="802" width="1" height="21"/><rect x="812" y="813" width="1" height="10"/><rect x="814" y="810" width="1" height="13"/><rect x="824" y="813" width="1" height="10"/><rect x="830" y="816" width="1" height="7"/><rect x="832" y="802" width="1" height="21"/><rect x="833" y="811" width="1" height="12"/><rect x="834" y="815" width="1" height="8"/><rect x="840" y="796" width="1" height="27"/><rect x="844" y="806" width="1" height="17"/><rect x="845" y="811" width="1" height="12"/><rect x="846" y="793" width="1" height="30"/><rect x="848" y="811" width="1" height="12"/><rect x="852" y="802" width="1" height="21"/><rect x="853" y="816" width="1" height="7"/><rect x="858" y="813" width="1" height="10"/><rect x="862" y="803" width="1" height="20"/><rect x="864" y="813" width="1" height="10"/><rect x="865" y="810" width="1" height="13"/><rect x="866" y="812" width="1" height="11"/><rect x="870" y="809" width="1" height="14"/><rect x="874" y="810" width="1" height="13"/><rect x="876" y="811" width="1" height="12"/><rect x="877" y="809" width="1" height="14"/><rect x="878" y="806" width="1" height="17"/><rect x="884" y="801" width="1" height="22"/><rect x="885" y="815" width="1" height="8"/><rect x="892" y="816" width="1" height="7"/><rect x="893" y="816" width="1" height="7"/><rect x="894" y="807" width="1" height="16"/><rect x="896" y="815" width="1" height="8"/><rect x="897" y="816" width="1" height="7"/><rect x="904" y="816" width="1" height="7"/><rect x="905" y="810" width="1" height="13"/><rect x="909" y="814" width="1" height="9"/><rect x="910" y="815" width="1" height="8"/><rect x="915" y="816" width="1" height="7"/><rect x="919" y="814" width="1" height="9"/><rect x="920" y="814" width="1" height="9"/><rect x="924" y="816" width="1" height="7"/><rect x="925" y="818" width="1" height="5"/><rect x="927" y="811" width="1" height="12"/><rect x="932" y="817" width="1" height="6"/><rect x="933" y="817" width="1" height="6"/><rect x="936" y="818" width="1" height="5"/><rect x="939" y="818" width="1" height="5"/><rect x="940" y="814" width="1" height="9"/><rect x="944" y="817" width="1" height="6"/><rect x="945" y="817" width="1" height="6"/><rect x="947" y="813" width="1" height="10"/><rect x="949" y="819" width="1" height="4"/><rect x="952" y="817" width="1" height="6"/><rect x="955" y="810" width="1" height="13"/><rect x="956" y="817" width="1" height="6"/><rect x="963" y="816" width="1" height="7"/><rect x="965" y="815" width="1" height="8"/><rect x="967" y="817" width="1" height="6"/><rect x="973" y="811" width="1" height="12"/><rect x="979" y="819" width="1" height="4"/><rect x="980" y="818" width="1" height="5"/><rect x="981" y="815" width="1" height="8"/><rect x="983" y="816" width="1" height="7"/><rect x="985" y="818" width="1" height="5"/><rect x="997" y="817" width="1" height="6"/><rect x="999" y="812" width="1" height="11"/><rect x="1000" y="814" width="1" height="9"/><rect x="1003" y="817" width="1" height="6"/><rect x="1005" y="820" width="1" height="3"/><rect x="1007" y="809" width="1" height="14"/><rect x="1011" y="815" width="1" height="8"/><rect x="1013" y="817" width="1" height="6"/><rect x="1015" y="819" width="1" height="4"/><rect x="1016" y="814" width="1" height="9"/><rect x="1017" y="818" width="1" height="5"/><rect x="1020" y="812" width="1" height="11"/><rect x="1021" y="813" width="1" height="10"/><rect x="1025" y="819" width="1" height="4"/><rect x="1028" y="815" width="1" height="8"/><rect x="1032" y="815" width="1" height="8"/><rect x="1035" y="818" width="1" height="5"/><rect x="1036" y="805" width="1" height="18"/><rect x="1044" y="812" width="1" height="11"/><rect x="1045" y="814" width="1" height="9"/><rect x="1047" y="817" width="1" height="6"/><rect x="1048" y="816" width="1" height="7"/><rect x="1051" y="816" width="1" height="7"/><rect x="1052" y="814" width="1" height="9"/><rect x="1055" y="819" width="1" height="4"/><rect x="1060" y="817" width="1" height="6"/><rect x="1067" y="816" width="1" height="7"/><rect x="1068" y="817" width="1" height="6"/><rect x="1069" y="812" width="1" height="11"/><rect x="1071" y="815" width="1" height="8"/><rect x="1072" y="819" width="1" height="4"/><rect x="1075" y="815" width="1" height="8"/><rect x="1079" y="809" width="1" height="14"/><rect x="1082" y="812" width="1" height="11"/><rect x="1083" y="817" width="1" height="6"/><rect x="1084" y="813" width="1" height="10"/><rect x="1086" y="814" width="1" height="9"/><rect x="1087" y="819" width="1" height="4"/><rect x="1088" y="818" width="1" height="5"/><rect x="1090" y="813" width="1" height="10"/><rect x="1091" y="812" width="1" height="11"/><rect x="1092" y="818" width="1" height="5"/><rect x="1099" y="812" width="1" height="11"/><rect x="1102" y="815" width="1" height="8"/><rect x="1103" y="817" width="1" height="6"/><rect x="1106" y="812" width="1" height="11"/><rect x="1107" y="808" width="1" height="15"/><rect x="1108" y="812" width="1" height="11"/><rect x="1114" y="814" width="1" height="9"/><rect x="1115" y="798" width="1" height="25"/><rect x="1122" y="811" width="1" height="12"/><rect x="1130" y="802" width="1" height="21"/><rect x="1131" y="813" width="1" height="10"/><rect x="1132" y="807" width="1" height="16"/><rect x="1139" y="803" width="1" height="20"/><rect x="1146" y="801" width="1" height="22"/><rect x="1147" y="814" width="1" height="9"/><rect x="1148" y="812" width="1" height="11"/><rect x="1150" y="817" width="1" height="6"/><rect x="1151" y="814" width="1" height="9"/><rect x="1152" y="813" width="1" height="10"/><rect x="1156" y="808" width="1" height="15"/><rect x="1158" y="808" width="1" height="15"/><rect x="1162" y="814" width="1" height="9"/><rect x="1164" y="814" width="1" height="9"/><rect x="1170" y="818" width="1" height="5"/><rect x="1171" y="812" width="1" height="11"/><rect x="1172" y="815" width="1" height="8"/><rect x="1175" y="812" width="1" height="11"/><rect x="1184" y="812" width="1" height="11"/><rect x="1190" y="814" width="1" height="9"/><rect x="1194" y="812" width="1" height="11"/><rect x="1199" y="815" width="1" height="8"/><rect x="1200" y="807" width="1" height="16"/><rect x="1202" y="812" width="1" height="11"/><rect x="1203" y="806" width="1" height="17"/><rect x="1204" y="812" width="1" height="11"/><rect x="1212" y="815" width="1" height="8"/><rect x="1215" y="817" width="1" height="6"/><rect x="1218" y="808" width="1" height="15"/><rect x="1219" y="809" width="1" height="14"/><rect x="1220" y="814" width="1" height="9"/><rect x="1222" y="815" width="1" height="8"/><rect x="1223" y="813" width="1" height="10"/><rect x="1224" y="811" width="1" height="12"/><rect x="1226" y="815" width="1" height="8"/><rect x="1234" y="815" width="1" height="8"/><rect x="1235" y="814" width="1" height="9"/><rect x="1243" y="813" width="1" height="10"/><rect x="1244" y="812" width="1" height="11"/><rect x="1246" y="811" width="1" height="12"/><rect x="1247" y="812" width="1" height="11"/><rect x="1249" y="809" width="1" height="14"/><rect x="1250" y="820" width="1" height="3"/><rect x="1251" y="815" width="1" height="8"/><rect x="1254" y="810" width="1" height="13"/><rect x="1255" y="811" width="1" height="12"/><rect x="1257" y="818" width="1" height="5"/><rect x="1261" y="808" width="1" height="15"/><rect x="1265" y="806" width="1" height="17"/><rect x="1275" y="811" width="1" height="12"/><rect x="1277" y="819" width="1" height="4"/><rect x="1278" y="818" width="1" height="5"/><rect x="1279" y="815" width="1" height="8"/><rect x="1281" y="813" width="1" height="10"/><rect x="1282" y="817" width="1" height="6"/><rect x="1283" y="809" width="1" height="14"/><rect x="1285" y="811" width="1" height="12"/><rect x="1286" y="814" width="1" height="9"/><rect x="1291" y="812" width="1" height="11"/><rect x="1294" y="809" width="1" height="14"/><rect x="1295" y="815" width="1" height="8"/><rect x="1297" y="815" width="1" height="8"/><rect x="1305" y="811" width="1" height="12"/><rect x="1311" y="810" width="1" height="13"/><rect x="1313" y="807" width="1" height="16"/><rect x="1314" y="814" width="1" height="9"/><rect x="1319" y="811" width="1" height="12"/><rect x="1321" y="811" width="1" height="12"/><rect x="1322" y="817" width="1" height="6"/><rect x="1323" y="807" width="1" height="16"/><rect x="1325" y="809" width="1" height="14"/><rect x="1326" y="810" width="1" height="13"/><rect x="1329" y="812" width="1" height="11"/><rect x="1333" y="815" width="1" height="8"/><rect x="1339" y="810" width="1" height="13"/><rect x="1342" y="817" width="1" height="6"/><rect x="1343" y="810" width="1" height="13"/><rect x="1345" y="803" width="1" height="20"/><rect x="1346" y="810" width="1" height="13"/><rect x="1349" y="804" width="1" height="19"/><rect x="1353" y="817" width="1" height="6"/><rect x="1359" y="815" width="1" height="8"/><rect x="1362" y="810" width="1" height="13"/><rect x="1363" y="808" width="1" height="15"/><rect x="1365" y="809" width="1" height="14"/><rect x="1366" y="806" width="1" height="17"/><rect x="1367" y="810" width="1" height="13"/><rect x="1370" y="812" width="1" height="11"/><rect x="1371" y="811" width="1" height="12"/><rect x="1374" y="804" width="1" height="19"/><rect x="1375" y="811" width="1" height="12"/><rect x="1378" y="791" width="1" height="32"/><rect x="1379" y="809" width="1" height="14"/><rect x="1381" y="813" width="1" height="10"/><rect x="1382" y="802" width="1" height="21"/><rect x="1385" y="811" width="1" height="12"/><rect x="1389" y="802" width="1" height="21"/><rect x="1390" y="815" width="1" height="8"/><rect x="1393" y="805" width="1" height="18"/><rect x="1395" y="813" width="1" height="10"/><rect x="1402" y="810" width="1" height="13"/><rect x="1403" y="800" width="1" height="23"/><rect x="1406" y="801" width="1" height="22"/><rect x="1407" y="806" width="1" height="17"/><rect x="1409" y="813" width="1" height="10"/><rect x="1410" y="813" width="1" height="10"/><rect x="1413" y="814" width="1" height="9"/><rect x="1416" y="811" width="1" height="12"/><rect x="1417" y="813" width="1" height="10"/><rect x="1418" y="813" width="1" height="10"/><rect x="1421" y="802" width="1" height="21"/><rect x="1422" y="814" width="1" height="9"/><rect x="1424" y="815" width="1" height="8"/><rect x="1425" y="810" width="1" height="13"/><rect x="1426" y="811" width="1" height="12"/><rect x="1432" y="818" width="1" height="5"/><rect x="1433" y="816" width="1" height="7"/><rect x="1436" y="811" width="1" height="12"/><rect x="1438" y="817" width="1" height="6"/><rect x="1442" y="815" width="1" height="8"/><rect x="1445" y="815" width="1" height="8"/><rect x="1448" y="817" width="1" height="6"/><rect x="1449" y="816" width="1" height="7"/><rect x="1450" y="814" width="1" height="9"/><rect x="1452" y="818" width="1" height="5"/><rect x="1458" y="815" width="1" height="8"/><rect x="1460" y="809" width="1" height="14"/><rect x="1470" y="816" width="1" height="7"/><rect x="1480" y="814" width="1" height="9"/><rect x="1482" y="816" width="1" height="7"/><rect x="1486" y="815" width="1" height="8"/><rect x="1488" y="816" width="1" height="7"/><rect x="1493" y="818" width="1" height="5"/><rect x="1501" y="818" width="1" height="5"/><rect x="1502" y="817" width="1" height="6"/><rect x="1505" y="813" width="1" height="10"/><rect x="1506" y="817" width="1" height="6"/><rect x="1509" y="814" width="1" height="9"/><rect x="1516" y="816" width="1" height="7"/><rect x="1517" y="814" width="1" height="9"/><rect x="1518" y="816" width="1" height="7"/><rect x="1521" y="809" width="1" height="14"/><rect x="1529" y="810" width="1" height="13"/><rect x="1530" y="814" width="1" height="9"/><rect x="1533" y="813" width="1" height="10"/><rect x="1536" y="808" width="1" height="15"/><rect x="1544" y="814" width="1" height="9"/><rect x="1545" y="812" width="1" height="11"/><rect x="1546" y="809" width="1" height="14"/><rect x="1550" y="813" width="1" height="10"/><rect x="1552" y="813" width="1" height="10"/><rect x="1554" y="803" width="1" height="20"/><rect x="1557" y="808" width="1" height="15"/><rect x="1561" y="807" width="1" height="16"/><rect x="1562" y="810" width="1" height="13"/><rect x="1564" y="813" width="1" height="10"/><rect x="1566" y="813" width="1" height="10"/><rect x="1568" y="815" width="1" height="8"/><rect x="1570" y="810" width="1" height="13"/><rect x="1574" y="810" width="1" height="13"/><rect x="1576" y="813" width="1" height="10"/><rect x="1577" y="800" width="1" height="23"/><rect x="1578" y="814" width="1" height="9"/><rect x="1580" y="801" width="1" height="22"/><rect x="1588" y="805" width="1" height="18"/><rect x="1589" y="817" width="1" height="6"/><rect x="1591" y="810" width="1" height="13"/><rect x="1592" y="810" width="1" height="13"/><rect x="1593" y="812" width="1" height="11"/><rect x="1595" y="815" width="1" height="8"/><rect x="1596" y="813" width="1" height="10"/><rect x="1599" y="814" width="1" height="9"/><rect x="1603" y="809" width="1" height="14"/><rect x="1604" y="805" width="1" height="18"/><rect x="1608" y="814" width="1" height="9"/><rect x="1611" y="816" width="1" height="7"/><rect x="1617" y="808" width="1" height="15"/><rect x="176" y="658" width="1" height="165"/><rect x="386" y="726" width="1" height="97"/><rect x="22" y="783" width="1" height="40"/><rect x="47" y="781" width="1" height="42"/><rect x="170" y="780" width="1" height="43"/><rect x="680" y="798" width="1" height="25"/><rect x="984" y="793" width="1" height="30"/><rect x="1150" y="774" width="1" height="49"/><rect x="1270" y="770" width="1" height="53"/><rect x="1364" y="788" width="1" height="35"/><rect x="1381" y="796" width="1" height="27"/><rect x="1573" y="793" width="1" height="30"/></g><text x="0" y="656" font-size="10" letter-spacing="0.35" fill="#bebebe">2.149.384 S. / 28,0 Mio.</text><text x="1" y="739" font-size="10" letter-spacing="0.35" fill="#bebebe">1.174.942 S.</text><g><path class="r" d="M-6 600h1V625h-1zM-5 608h1V613h-1z"/><path class="g" d="M-3 607h1V623h-1zM-2 613h1V619h-1z"/><path class="r" d="M-2 605h1V622h-1zM-1 616h1V620h-1z"/><path class="g" d="M-1 606h1V618h-1zM0 607h1V614h-1z"/><path class="r" d="M1 609h1V624h-1z"/><path class="g" d="M2 613h1V631h-1zM3 617h1V626h-1z"/><path class="g" d="M3 617h1V638h-1zM4 622h1V633h-1z"/><path class="r" d="M5 620h1V643h-1zM6 627h1V633h-1z"/><path class="g" d="M6 628h1V645h-1z"/><path class="r" d="M7 629h1V654h-1z"/><path class="r" d="M9 636h1V660h-1zM10 636h1V650h-1z"/><path class="r" d="M10 643h1V665h-1z"/><path class="g" d="M11 647h1V662h-1z"/><path class="r" d="M13 648h1V664h-1z"/><path class="r" d="M14 653h1V673h-1z"/><path class="r" d="M15 657h1V675h-1zM16 659h1V665h-1z"/><path class="r" d="M17 656h1V674h-1zM18 656h1V663h-1z"/><path class="r" d="M18 656h1V678h-1zM19 661h1V674h-1z"/><path class="r" d="M19 653h1V686h-1z"/><path class="g" d="M22 654h1V674h-1z"/><path class="g" d="M25 651h1V672h-1zM26 665h1V670h-1z"/><path class="g" d="M26 653h1V671h-1z"/><path class="g" d="M29 651h1V664h-1zM30 654h1V663h-1z"/><path class="g" d="M30 652h1V661h-1z"/><path class="r" d="M31 648h1V657h-1zM32 650h1V657h-1z"/><path class="g" d="M34 641h1V651h-1z"/><path class="r" d="M35 636h1V652h-1z"/><path class="g" d="M37 634h1V644h-1z"/><path class="g" d="M38 631h1V644h-1zM39 636h1V643h-1z"/><path class="g" d="M39 627h1V640h-1zM40 629h1V636h-1z"/><path class="r" d="M42 617h1V630h-1zM43 618h1V626h-1z"/><path class="r" d="M45 604h1V632h-1z"/><path class="g" d="M46 608h1V637h-1z"/><path class="g" d="M47 617h1V640h-1zM48 620h1V635h-1z"/><path class="r" d="M49 623h1V653h-1z"/><path class="r" d="M50 622h1V660h-1z"/><path class="r" d="M51 624h1V648h-1zM52 628h1V640h-1z"/><path class="g" d="M53 621h1V648h-1z"/><path class="g" d="M54 614h1V643h-1z"/><path class="g" d="M55 611h1V638h-1zM56 619h1V632h-1z"/><path class="r" d="M57 618h1V637h-1zM58 625h1V637h-1z"/><path class="r" d="M58 619h1V635h-1z"/><path class="g" d="M59 619h1V629h-1z"/><path class="r" d="M61 622h1V631h-1z"/><path class="r" d="M62 624h1V634h-1z"/><path class="r" d="M63 623h1V633h-1zM64 624h1V628h-1z"/><path class="g" d="M65 622h1V637h-1z"/><path class="g" d="M66 621h1V635h-1zM67 624h1V634h-1z"/><path class="r" d="M69 619h1V633h-1zM70 620h1V625h-1z"/><path class="g" d="M70 615h1V631h-1z"/><path class="g" d="M71 619h1V632h-1z"/><path class="g" d="M73 617h1V631h-1z"/><path class="g" d="M75 608h1V626h-1z"/><path class="g" d="M78 618h1V642h-1z"/><path class="g" d="M80 621h1V649h-1z"/><path class="g" d="M81 620h1V646h-1z"/><path class="g" d="M82 612h1V635h-1zM83 613h1V620h-1z"/><path class="g" d="M84 596h1V620h-1zM85 604h1V619h-1z"/><path class="g" d="M85 566h1V598h-1z"/><path class="g" d="M85 566h1V604h-1z"/><path class="r" d="M86 575h1V597h-1zM87 578h1V589h-1z"/><path class="g" d="M88 568h1V586h-1zM89 573h1V581h-1z"/><path class="g" d="M89 569h1V581h-1zM90 570h1V574h-1z"/><path class="g" d="M90 566h1V574h-1zM91 569h1V572h-1z"/><path class="r" d="M92 565h1V580h-1z"/><path class="r" d="M93 562h1V582h-1z"/><path class="r" d="M94 561h1V583h-1zM95 562h1V576h-1z"/><path class="r" d="M96 563h1V585h-1z"/><path class="g" d="M97 560h1V578h-1z"/><path class="g" d="M98 562h1V574h-1zM99 566h1V572h-1z"/><path class="r" d="M100 556h1V568h-1z"/><path class="r" d="M101 554h1V566h-1z"/><path class="r" d="M102 552h1V566h-1z"/><path class="r" d="M105 547h1V560h-1z"/><path class="g" d="M106 543h1V557h-1z"/><path class="g" d="M109 532h1V561h-1zM110 545h1V558h-1z"/><path class="g" d="M109 530h1V571h-1zM110 546h1V554h-1z"/><path class="g" d="M110 529h1V551h-1z"/><path class="r" d="M112 527h1V544h-1zM113 537h1V542h-1z"/><path class="g" d="M114 521h1V535h-1z"/><path class="r" d="M117 513h1V535h-1zM118 518h1V526h-1z"/><path class="g" d="M120 497h1V519h-1z"/><path class="g" d="M121 498h1V513h-1zM122 502h1V512h-1z"/><path class="r" d="M124 497h1V507h-1zM125 499h1V504h-1z"/><path class="r" d="M125 498h1V510h-1z"/><path class="r" d="M126 499h1V513h-1z"/><path class="g" d="M128 499h1V515h-1z"/><path class="g" d="M130 494h1V504h-1z"/><path class="r" d="M132 498h1V509h-1z"/><path class="r" d="M133 503h1V511h-1zM134 506h1V509h-1z"/><path class="g" d="M134 506h1V520h-1z"/><path class="r" d="M136 506h1V519h-1zM137 507h1V510h-1z"/><path class="g" d="M137 506h1V518h-1z"/><path class="r" d="M140 504h1V515h-1zM141 507h1V513h-1z"/><path class="g" d="M141 501h1V512h-1zM142 502h1V509h-1z"/><path class="g" d="M142 497h1V510h-1zM143 502h1V507h-1z"/><path class="g" d="M144 493h1V504h-1zM145 495h1V501h-1z"/><path class="g" d="M145 488h1V506h-1zM146 497h1V505h-1z"/><path class="g" d="M146 485h1V507h-1z"/><path class="g" d="M148 485h1V502h-1zM149 488h1V497h-1z"/><path class="g" d="M149 488h1V508h-1z"/><path class="r" d="M150 484h1V501h-1z"/><path class="r" d="M152 481h1V495h-1z"/><path class="g" d="M153 480h1V487h-1zM154 481h1V484h-1z"/><path class="g" d="M154 476h1V484h-1z"/><path class="g" d="M156 471h1V478h-1z"/><path class="r" d="M157 469h1V480h-1z"/><path class="g" d="M158 466h1V478h-1zM159 469h1V473h-1z"/><path class="r" d="M161 464h1V483h-1z"/><path class="r" d="M162 464h1V484h-1z"/><path class="r" d="M165 465h1V482h-1zM166 473h1V479h-1z"/><path class="r" d="M166 464h1V487h-1zM167 470h1V480h-1z"/><path class="g" d="M168 472h1V490h-1z"/><path class="g" d="M169 474h1V497h-1z"/><path class="g" d="M171 480h1V539h-1z"/><path class="r" d="M172 479h1V500h-1z"/><path class="r" d="M173 478h1V493h-1z"/><path class="g" d="M174 473h1V489h-1z"/><path class="g" d="M176 486h1V506h-1zM177 488h1V493h-1z"/><path class="g" d="M177 498h1V515h-1z"/><path class="r" d="M178 506h1V523h-1zM179 515h1V520h-1z"/><path class="r" d="M180 505h1V518h-1z"/><path class="g" d="M181 508h1V518h-1zM182 510h1V514h-1z"/><path class="r" d="M184 504h1V516h-1z"/><path class="r" d="M185 506h1V513h-1z"/><path class="g" d="M188 511h1V527h-1zM189 512h1V519h-1z"/><path class="r" d="M189 516h1V534h-1z"/><path class="g" d="M190 515h1V539h-1z"/><path class="r" d="M193 524h1V544h-1zM194 527h1V534h-1z"/><path class="r" d="M194 525h1V541h-1zM195 533h1V540h-1z"/><path class="r" d="M196 525h1V540h-1z"/><path class="r" d="M198 537h1V548h-1z"/><path class="g" d="M200 540h1V554h-1zM201 544h1V550h-1z"/><path class="r" d="M202 544h1V567h-1zM203 559h1V565h-1z"/><path class="r" d="M204 547h1V571h-1z"/><path class="r" d="M205 550h1V571h-1zM206 553h1V560h-1z"/><path class="g" d="M206 541h1V573h-1zM207 556h1V565h-1z"/><path class="g" d="M209 545h1V564h-1z"/><path class="g" d="M210 546h1V558h-1z"/><path class="g" d="M213 542h1V552h-1z"/><path class="g" d="M214 540h1V550h-1zM215 546h1V548h-1z"/><path class="r" d="M217 536h1V549h-1z"/><path class="r" d="M218 535h1V548h-1zM219 542h1V546h-1z"/><path class="r" d="M220 531h1V542h-1zM221 538h1V541h-1z"/><path class="g" d="M221 523h1V539h-1zM222 524h1V535h-1z"/><path class="g" d="M222 516h1V530h-1z"/><path class="g" d="M224 508h1V523h-1zM225 510h1V518h-1z"/><path class="r" d="M225 509h1V524h-1zM226 513h1V521h-1z"/><path class="r" d="M226 508h1V528h-1z"/><path class="r" d="M229 521h1V539h-1zM230 528h1V535h-1z"/><path class="r" d="M232 537h1V553h-1zM233 538h1V548h-1z"/><path class="g" d="M233 540h1V556h-1zM234 541h1V548h-1z"/><path class="r" d="M234 547h1V560h-1zM235 552h1V557h-1z"/><path class="g" d="M236 552h1V565h-1zM237 553h1V557h-1z"/><path class="r" d="M237 548h1V564h-1z"/><path class="r" d="M238 549h1V562h-1z"/><path class="g" d="M240 556h1V566h-1zM241 558h1V563h-1z"/><path class="r" d="M242 563h1V579h-1z"/><path class="g" d="M244 563h1V575h-1zM245 566h1V574h-1z"/><path class="r" d="M245 568h1V577h-1z"/><path class="g" d="M247 563h1V572h-1zM248 565h1V568h-1z"/><path class="r" d="M248 554h1V566h-1z"/><path class="g" d="M249 539h1V557h-1zM250 550h1V556h-1z"/><path class="g" d="M251 539h1V552h-1z"/><path class="r" d="M252 539h1V552h-1zM253 541h1V546h-1z"/><path class="r" d="M253 540h1V552h-1z"/><path class="r" d="M255 542h1V572h-1zM256 547h1V559h-1z"/><path class="g" d="M257 547h1V562h-1z"/><path class="r" d="M259 539h1V554h-1zM260 540h1V548h-1z"/><path class="r" d="M260 537h1V551h-1z"/><path class="r" d="M263 542h1V556h-1z"/><path class="r" d="M264 541h1V551h-1z"/><path class="g" d="M265 541h1V551h-1z"/><path class="r" d="M267 538h1V556h-1z"/><path class="g" d="M268 538h1V552h-1z"/><path class="r" d="M269 532h1V549h-1zM270 532h1V537h-1z"/><path class="g" d="M271 526h1V544h-1zM272 531h1V539h-1z"/><path class="g" d="M272 519h1V533h-1z"/><path class="r" d="M273 511h1V524h-1z"/><path class="r" d="M275 501h1V521h-1zM276 512h1V519h-1z"/><path class="r" d="M277 505h1V514h-1z"/><path class="r" d="M279 508h1V516h-1zM280 511h1V515h-1z"/><path class="g" d="M280 509h1V518h-1z"/><path class="r" d="M281 510h1V520h-1zM282 511h1V516h-1z"/><path class="g" d="M283 508h1V527h-1z"/><path class="r" d="M285 509h1V519h-1z"/><path class="r" d="M287 509h1V517h-1zM288 512h1V516h-1z"/><path class="r" d="M289 508h1V516h-1z"/><path class="g" d="M291 508h1V514h-1zM292 510h1V514h-1z"/><path class="g" d="M292 506h1V514h-1zM293 510h1V512h-1z"/><path class="r" d="M293 505h1V513h-1z"/><path class="g" d="M295 504h1V511h-1zM296 507h1V510h-1z"/><path class="g" d="M296 501h1V510h-1zM297 504h1V508h-1z"/><path class="g" d="M297 500h1V510h-1z"/><path class="g" d="M299 498h1V508h-1zM300 499h1V504h-1z"/><path class="g" d="M300 494h1V507h-1z"/><path class="r" d="M301 496h1V508h-1zM302 498h1V504h-1z"/><path class="r" d="M303 498h1V509h-1z"/><path class="g" d="M304 494h1V508h-1z"/><path class="r" d="M305 506h1V518h-1z"/><path class="g" d="M307 513h1V527h-1z"/><path class="r" d="M308 525h1V536h-1zM309 528h1V533h-1z"/><path class="r" d="M309 526h1V572h-1z"/><path class="r" d="M309 532h1V546h-1z"/><path class="r" d="M311 529h1V552h-1z"/><path class="g" d="M313 526h1V537h-1z"/><path class="g" d="M315 517h1V526h-1z"/><path class="r" d="M316 517h1V525h-1zM317 518h1V522h-1z"/><path class="g" d="M317 512h1V524h-1z"/><path class="g" d="M320 513h1V529h-1z"/><path class="r" d="M321 514h1V533h-1zM322 516h1V527h-1z"/><path class="g" d="M323 512h1V527h-1z"/><path class="g" d="M325 500h1V511h-1zM326 501h1V508h-1z"/><path class="g" d="M327 502h1V512h-1z"/><path class="r" d="M328 500h1V515h-1zM329 500h1V508h-1z"/><path class="r" d="M329 500h1V517h-1zM330 505h1V514h-1z"/><path class="r" d="M331 502h1V515h-1z"/><path class="g" d="M332 506h1V513h-1z"/><path class="r" d="M333 505h1V512h-1z"/><path class="g" d="M335 501h1V510h-1z"/><path class="g" d="M336 498h1V508h-1z"/><path class="r" d="M337 503h1V513h-1z"/><path class="r" d="M339 500h1V512h-1zM340 503h1V510h-1z"/><path class="g" d="M340 498h1V521h-1zM341 505h1V517h-1z"/><path class="r" d="M343 496h1V509h-1zM344 499h1V507h-1z"/><path class="g" d="M344 493h1V509h-1z"/><path class="g" d="M345 489h1V501h-1zM346 490h1V497h-1z"/><path class="r" d="M347 484h1V493h-1z"/><path class="g" d="M348 483h1V492h-1zM349 486h1V492h-1z"/><path class="g" d="M351 481h1V488h-1zM352 481h1V486h-1z"/><path class="r" d="M353 477h1V484h-1z"/><path class="g" d="M355 465h1V481h-1z"/><path class="g" d="M357 468h1V478h-1z"/><path class="g" d="M359 468h1V478h-1zM360 469h1V474h-1z"/><path class="g" d="M360 467h1V476h-1z"/><path class="g" d="M361 459h1V473h-1zM362 459h1V465h-1z"/><path class="g" d="M363 454h1V469h-1z"/><path class="g" d="M364 448h1V461h-1zM365 450h1V458h-1z"/><path class="r" d="M365 445h1V457h-1z"/><path class="r" d="M367 440h1V450h-1zM368 440h1V446h-1z"/><path class="g" d="M368 437h1V450h-1z"/><path class="g" d="M369 435h1V449h-1z"/><path class="r" d="M371 435h1V446h-1zM372 439h1V443h-1z"/><path class="g" d="M372 429h1V442h-1zM373 433h1V441h-1z"/><path class="r" d="M373 431h1V440h-1z"/><path class="g" d="M376 422h1V432h-1z"/><path class="r" d="M377 414h1V425h-1zM378 415h1V420h-1z"/><path class="r" d="M380 425h1V436h-1z"/><path class="r" d="M381 417h1V431h-1z"/><path class="r" d="M384 414h1V427h-1zM385 420h1V426h-1z"/><path class="g" d="M385 418h1V426h-1z"/><path class="r" d="M387 432h1V478h-1z"/><path class="g" d="M388 438h1V453h-1zM389 441h1V445h-1z"/><path class="r" d="M389 443h1V456h-1z"/><path class="g" d="M391 446h1V458h-1z"/><path class="g" d="M392 442h1V453h-1zM393 442h1V449h-1z"/><path class="r" d="M395 437h1V449h-1z"/><path class="r" d="M396 442h1V451h-1z"/><path class="r" d="M397 443h1V451h-1zM398 444h1V448h-1z"/><path class="g" d="M400 432h1V442h-1zM401 433h1V440h-1z"/><path class="r" d="M401 429h1V437h-1z"/><path class="g" d="M403 428h1V437h-1z"/><path class="g" d="M404 421h1V433h-1zM405 423h1V428h-1z"/><path class="r" d="M405 410h1V431h-1zM406 420h1V427h-1z"/><path class="g" d="M408 414h1V433h-1z"/><path class="r" d="M411 424h1V441h-1z"/><path class="g" d="M412 420h1V437h-1z"/><path class="g" d="M414 425h1V442h-1zM415 434h1V439h-1z"/><path class="r" d="M415 432h1V450h-1z"/><path class="r" d="M416 441h1V461h-1zM417 448h1V456h-1z"/><path class="g" d="M418 445h1V456h-1zM419 448h1V451h-1z"/><path class="g" d="M419 442h1V451h-1zM420 443h1V447h-1z"/><path class="g" d="M420 436h1V448h-1z"/><path class="r" d="M422 420h1V439h-1z"/><path class="g" d="M424 424h1V434h-1z"/><path class="g" d="M427 424h1V434h-1zM428 427h1V430h-1z"/><path class="r" d="M428 426h1V432h-1z"/><path class="r" d="M430 428h1V435h-1z"/><path class="r" d="M431 425h1V439h-1zM432 428h1V435h-1z"/><path class="g" d="M432 420h1V445h-1z"/><path class="r" d="M434 425h1V453h-1zM435 426h1V443h-1z"/><path class="g" d="M435 428h1V460h-1z"/><path class="r" d="M438 438h1V472h-1zM439 451h1V469h-1z"/><path class="r" d="M439 444h1V475h-1z"/><path class="r" d="M440 454h1V479h-1z"/><path class="g" d="M442 453h1V476h-1z"/><path class="g" d="M444 461h1V471h-1zM445 462h1V467h-1z"/><path class="r" d="M446 466h1V477h-1z"/><path class="r" d="M447 469h1V482h-1z"/><path class="g" d="M448 465h1V484h-1z"/><path class="r" d="M450 460h1V498h-1z"/><path class="g" d="M452 463h1V493h-1z"/><path class="r" d="M454 467h1V484h-1z"/><path class="r" d="M455 476h1V494h-1zM456 482h1V493h-1z"/><path class="r" d="M456 482h1V503h-1z"/><path class="r" d="M458 489h1V510h-1z"/><path class="r" d="M459 493h1V509h-1z"/><path class="r" d="M460 492h1V506h-1zM461 497h1V504h-1z"/><path class="r" d="M462 496h1V509h-1z"/><path class="g" d="M463 500h1V518h-1z"/><path class="r" d="M464 503h1V525h-1zM465 514h1V523h-1z"/><path class="r" d="M467 528h1V551h-1zM468 533h1V545h-1z"/><path class="r" d="M468 530h1V547h-1z"/><path class="g" d="M470 534h1V546h-1z"/><path class="g" d="M471 532h1V542h-1z"/><path class="r" d="M472 528h1V540h-1zM473 532h1V537h-1z"/><path class="r" d="M475 517h1V533h-1z"/><path class="g" d="M478 503h1V521h-1z"/><path class="g" d="M479 508h1V520h-1zM480 508h1V515h-1z"/><path class="r" d="M480 507h1V519h-1zM481 511h1V515h-1z"/><path class="r" d="M482 509h1V519h-1zM483 511h1V518h-1z"/><path class="g" d="M484 507h1V529h-1z"/><path class="r" d="M486 501h1V521h-1z"/><path class="g" d="M487 502h1V513h-1z"/><path class="g" d="M488 498h1V506h-1z"/><path class="r" d="M490 493h1V503h-1zM491 494h1V501h-1z"/><path class="g" d="M491 492h1V507h-1z"/><path class="r" d="M492 490h1V509h-1z"/><path class="g" d="M495 492h1V507h-1zM496 497h1V502h-1z"/><path class="g" d="M496 493h1V502h-1zM497 494h1V500h-1z"/><path class="g" d="M498 491h1V500h-1zM499 495h1V497h-1z"/><path class="r" d="M500 483h1V497h-1zM501 489h1V492h-1z"/><path class="g" d="M502 488h1V498h-1zM503 489h1V496h-1z"/><path class="r" d="M503 486h1V498h-1z"/><path class="g" d="M506 481h1V494h-1zM507 483h1V491h-1z"/><path class="g" d="M507 477h1V491h-1z"/><path class="g" d="M508 467h1V482h-1z"/><path class="g" d="M510 453h1V469h-1zM511 454h1V460h-1z"/><path class="r" d="M511 450h1V466h-1zM512 456h1V465h-1z"/><path class="g" d="M512 445h1V459h-1z"/><path class="r" d="M514 443h1V458h-1zM515 451h1V457h-1z"/><path class="g" d="M515 438h1V453h-1z"/><path class="g" d="M516 434h1V445h-1zM517 437h1V440h-1z"/><path class="r" d="M518 438h1V447h-1zM519 443h1V446h-1z"/><path class="g" d="M520 439h1V455h-1z"/><path class="g" d="M522 439h1V448h-1zM523 440h1V445h-1z"/><path class="r" d="M523 437h1V449h-1z"/><path class="r" d="M524 435h1V444h-1z"/><path class="g" d="M526 430h1V443h-1z"/><path class="g" d="M528 434h1V442h-1zM529 438h1V442h-1z"/><path class="g" d="M530 437h1V444h-1z"/><path class="r" d="M531 439h1V446h-1zM532 440h1V444h-1z"/><path class="r" d="M532 440h1V449h-1zM533 442h1V445h-1z"/><path class="r" d="M534 439h1V450h-1zM535 443h1V449h-1z"/><path class="r" d="M535 443h1V452h-1z"/><path class="r" d="M536 442h1V451h-1zM537 442h1V445h-1z"/><path class="r" d="M538 444h1V454h-1zM539 446h1V449h-1z"/><path class="g" d="M539 442h1V454h-1zM540 451h1V454h-1z"/><path class="r" d="M540 447h1V457h-1z"/><path class="r" d="M542 445h1V458h-1zM543 454h1V457h-1z"/><path class="r" d="M544 457h1V466h-1z"/><path class="g" d="M546 454h1V465h-1z"/><path class="r" d="M547 452h1V461h-1z"/><path class="g" d="M548 450h1V461h-1z"/><path class="r" d="M550 451h1V461h-1zM551 452h1V459h-1z"/><path class="g" d="M552 450h1V463h-1z"/><path class="r" d="M554 456h1V470h-1z"/><path class="r" d="M555 464h1V479h-1zM556 466h1V472h-1z"/><path class="r" d="M556 464h1V479h-1z"/><path class="g" d="M558 464h1V477h-1zM559 467h1V471h-1z"/><path class="r" d="M559 463h1V479h-1z"/><path class="g" d="M560 459h1V470h-1zM561 461h1V466h-1z"/><path class="g" d="M562 455h1V466h-1z"/><path class="g" d="M563 450h1V458h-1z"/><path class="g" d="M564 446h1V457h-1z"/><path class="r" d="M566 440h1V450h-1zM567 441h1V445h-1z"/><path class="g" d="M567 437h1V445h-1zM568 439h1V442h-1z"/><path class="g" d="M570 433h1V440h-1z"/><path class="r" d="M571 432h1V441h-1z"/><path class="g" d="M574 426h1V435h-1z"/><path class="r" d="M575 424h1V430h-1z"/><path class="r" d="M576 422h1V430h-1z"/><path class="r" d="M578 421h1V429h-1z"/><path class="g" d="M581 428h1V439h-1z"/><path class="g" d="M583 441h1V456h-1z"/><path class="r" d="M585 438h1V459h-1z"/><path class="g" d="M586 439h1V472h-1z"/><path class="g" d="M587 436h1V463h-1zM588 443h1V459h-1z"/><path class="r" d="M589 429h1V453h-1zM590 443h1V451h-1z"/><path class="g" d="M591 431h1V442h-1z"/><path class="r" d="M593 432h1V439h-1z"/><path class="r" d="M594 434h1V441h-1z"/><path class="g" d="M596 443h1V486h-1z"/><path class="r" d="M597 444h1V460h-1zM598 447h1V454h-1z"/><path class="r" d="M598 442h1V450h-1zM599 445h1V450h-1z"/><path class="r" d="M599 441h1V447h-1z"/><path class="g" d="M601 420h1V442h-1zM602 432h1V437h-1z"/><path class="r" d="M603 430h1V443h-1z"/><path class="g" d="M605 424h1V448h-1zM606 431h1V437h-1z"/><path class="g" d="M607 431h1V445h-1z"/><path class="r" d="M610 429h1V437h-1z"/><path class="g" d="M611 427h1V436h-1z"/><path class="r" d="M614 424h1V431h-1z"/><path class="g" d="M615 423h1V431h-1zM616 426h1V429h-1z"/><path class="g" d="M617 417h1V425h-1z"/><path class="g" d="M618 408h1V422h-1z"/><path class="r" d="M621 412h1V419h-1z"/><path class="g" d="M622 413h1V421h-1z"/><path class="r" d="M623 411h1V419h-1z"/><path class="g" d="M625 409h1V418h-1z"/><path class="g" d="M626 408h1V413h-1z"/><path class="g" d="M629 407h1V412h-1z"/><path class="r" d="M631 404h1V415h-1zM632 408h1V413h-1z"/><path class="g" d="M633 403h1V417h-1zM634 404h1V412h-1z"/><path class="g" d="M634 406h1V413h-1z"/><path class="r" d="M635 403h1V413h-1z"/><path class="g" d="M637 404h1V412h-1zM638 408h1V411h-1z"/><path class="g" d="M638 406h1V414h-1zM639 407h1V411h-1z"/><path class="r" d="M639 403h1V415h-1z"/><path class="g" d="M641 406h1V415h-1z"/><path class="g" d="M642 407h1V415h-1z"/><path class="g" d="M645 393h1V407h-1zM646 400h1V405h-1z"/><path class="r" d="M646 395h1V404h-1zM647 397h1V400h-1z"/><path class="r" d="M647 398h1V415h-1zM648 400h1V404h-1z"/><path class="g" d="M650 404h1V412h-1z"/><path class="g" d="M651 400h1V407h-1zM652 400h1V404h-1z"/><path class="g" d="M653 395h1V403h-1z"/><path class="g" d="M655 383h1V392h-1z"/><path class="r" d="M657 380h1V388h-1zM658 382h1V387h-1z"/><path class="r" d="M658 378h1V387h-1z"/><path class="g" d="M661 374h1V382h-1zM662 375h1V380h-1z"/><path class="g" d="M662 373h1V378h-1z"/><path class="r" d="M663 371h1V378h-1zM664 374h1V377h-1z"/><path class="g" d="M665 369h1V377h-1z"/><path class="g" d="M666 371h1V378h-1zM667 373h1V377h-1z"/><path class="r" d="M667 370h1V378h-1zM668 373h1V377h-1z"/><path class="g" d="M669 371h1V379h-1zM670 372h1V376h-1z"/><path class="r" d="M671 373h1V385h-1z"/><path class="g" d="M672 372h1V400h-1z"/><path class="r" d="M673 377h1V385h-1z"/><path class="g" d="M675 377h1V384h-1z"/><path class="g" d="M677 375h1V383h-1z"/><path class="r" d="M678 368h1V382h-1z"/><path class="g" d="M681 383h1V400h-1z"/><path class="r" d="M682 382h1V394h-1z"/><path class="r" d="M685 384h1V391h-1z"/><path class="g" d="M687 382h1V391h-1z"/><path class="g" d="M689 381h1V390h-1z"/><path class="g" d="M690 381h1V388h-1z"/><path class="g" d="M691 377h1V389h-1zM692 382h1V386h-1z"/><path class="r" d="M693 379h1V389h-1z"/><path class="g" d="M694 379h1V390h-1z"/><path class="r" d="M695 379h1V387h-1z"/><path class="g" d="M697 380h1V391h-1z"/><path class="r" d="M698 379h1V393h-1zM699 382h1V387h-1z"/><path class="g" d="M699 388h1V395h-1zM700 389h1V392h-1z"/><path class="r" d="M701 388h1V400h-1z"/><path class="r" d="M703 392h1V398h-1z"/><path class="r" d="M705 391h1V398h-1zM706 391h1V395h-1z"/><path class="g" d="M706 392h1V397h-1z"/><path class="r" d="M707 392h1V397h-1z"/><path class="g" d="M710 390h1V398h-1z"/><path class="r" d="M711 389h1V396h-1zM712 391h1V394h-1z"/><path class="r" d="M714 392h1V400h-1z"/><path class="g" d="M715 393h1V402h-1z"/><path class="r" d="M718 399h1V409h-1z"/><path class="r" d="M719 403h1V410h-1z"/><path class="r" d="M722 405h1V417h-1z"/><path class="g" d="M725 402h1V410h-1z"/><path class="g" d="M727 390h1V433h-1z"/><path class="g" d="M727 397h1V411h-1zM728 400h1V410h-1z"/><path class="g" d="M729 395h1V408h-1z"/><path class="g" d="M730 391h1V405h-1z"/><path class="g" d="M731 390h1V406h-1z"/><path class="g" d="M734 391h1V401h-1zM735 394h1V401h-1z"/><path class="r" d="M735 385h1V394h-1zM736 388h1V391h-1z"/><path class="g" d="M737 386h1V392h-1zM738 387h1V391h-1z"/><path class="g" d="M738 384h1V391h-1z"/><path class="g" d="M739 383h1V393h-1zM740 385h1V391h-1z"/><path class="g" d="M741 380h1V394h-1z"/><path class="r" d="M743 390h1V399h-1zM744 392h1V398h-1z"/><path class="r" d="M745 392h1V400h-1zM746 396h1V398h-1z"/><path class="r" d="M748 392h1V404h-1z"/><path class="r" d="M749 392h1V405h-1zM750 394h1V398h-1z"/><path class="r" d="M750 397h1V408h-1z"/><path class="r" d="M752 393h1V405h-1zM753 394h1V400h-1z"/><path class="r" d="M754 389h1V399h-1z"/><path class="r" d="M756 388h1V396h-1zM757 390h1V395h-1z"/><path class="r" d="M757 386h1V394h-1z"/><path class="r" d="M758 386h1V393h-1zM759 387h1V391h-1z"/><path class="g" d="M760 386h1V391h-1z"/><path class="g" d="M761 386h1V393h-1zM762 389h1V392h-1z"/><path class="g" d="M762 386h1V392h-1z"/><path class="r" d="M764 387h1V391h-1zM765 387h1V389h-1z"/><path class="r" d="M765 386h1V389h-1z"/><path class="g" d="M766 384h1V389h-1z"/><path class="r" d="M768 383h1V387h-1z"/><path class="g" d="M769 382h1V387h-1z"/><path class="g" d="M770 379h1V387h-1zM771 380h1V386h-1z"/><path class="g" d="M773 376h1V385h-1z"/><path class="g" d="M774 376h1V384h-1zM775 377h1V380h-1z"/><path class="g" d="M776 373h1V383h-1zM777 376h1V383h-1z"/><path class="g" d="M777 372h1V380h-1z"/><path class="r" d="M778 366h1V378h-1z"/><path class="g" d="M780 373h1V382h-1zM781 375h1V381h-1z"/><path class="r" d="M782 377h1V389h-1zM783 378h1V383h-1z"/><path class="r" d="M784 377h1V386h-1z"/><path class="g" d="M785 376h1V385h-1zM786 381h1V385h-1z"/><path class="g" d="M786 376h1V385h-1zM787 378h1V384h-1z"/><path class="g" d="M788 377h1V383h-1zM789 379h1V382h-1z"/><path class="g" d="M790 377h1V383h-1zM791 380h1V383h-1z"/><path class="r" d="M792 378h1V384h-1z"/><path class="g" d="M793 375h1V386h-1zM794 379h1V382h-1z"/><path class="g" d="M794 367h1V379h-1z"/><path class="r" d="M796 354h1V369h-1zM797 359h1V366h-1z"/><path class="g" d="M797 347h1V366h-1z"/><path class="r" d="M798 339h1V359h-1z"/><path class="g" d="M800 343h1V357h-1z"/><path class="g" d="M801 340h1V353h-1z"/><path class="g" d="M802 340h1V351h-1zM803 344h1V350h-1z"/><path class="g" d="M804 337h1V350h-1z"/><path class="g" d="M805 339h1V349h-1z"/><path class="g" d="M806 334h1V344h-1z"/><path class="g" d="M808 331h1V342h-1zM809 332h1V338h-1z"/><path class="g" d="M809 328h1V339h-1zM810 332h1V338h-1z"/><path class="r" d="M810 316h1V336h-1zM811 321h1V334h-1z"/><path class="g" d="M813 297h1V319h-1z"/><path class="g" d="M816 286h1V303h-1zM817 287h1V296h-1z"/><path class="g" d="M817 287h1V296h-1zM818 288h1V293h-1z"/><path class="g" d="M818 285h1V293h-1z"/><path class="g" d="M820 287h1V294h-1zM821 289h1V294h-1z"/><path class="g" d="M822 283h1V291h-1z"/><path class="r" d="M824 283h1V288h-1z"/><path class="g" d="M825 279h1V287h-1zM826 282h1V284h-1z"/><path class="g" d="M826 278h1V285h-1zM827 280h1V282h-1z"/><path class="g" d="M828 278h1V284h-1z"/><path class="g" d="M829 275h1V281h-1z"/><path class="r" d="M830 273h1V282h-1z"/><path class="r" d="M832 274h1V279h-1zM833 275h1V278h-1z"/><path class="r" d="M834 266h1V274h-1z"/><path class="g" d="M836 268h1V272h-1z"/><path class="g" d="M837 267h1V273h-1zM838 269h1V271h-1z"/><path class="g" d="M838 267h1V273h-1z"/><path class="r" d="M840 260h1V272h-1z"/><path class="g" d="M842 248h1V270h-1zM843 263h1V269h-1z"/><path class="r" d="M844 255h1V265h-1z"/><path class="r" d="M845 258h1V266h-1z"/><path class="r" d="M846 260h1V266h-1z"/><path class="r" d="M848 260h1V268h-1zM849 263h1V265h-1z"/><path class="g" d="M849 262h1V271h-1zM850 265h1V269h-1z"/><path class="g" d="M850 260h1V267h-1z"/><path class="r" d="M852 254h1V263h-1zM853 256h1V262h-1z"/><path class="g" d="M854 253h1V279h-1zM855 262h1V269h-1z"/><path class="g" d="M854 251h1V260h-1zM855 254h1V259h-1z"/><path class="g" d="M857 232h1V245h-1z"/><path class="r" d="M858 230h1V238h-1zM859 230h1V235h-1z"/><path class="g" d="M860 223h1V234h-1z"/><path class="r" d="M862 224h1V234h-1z"/><path class="r" d="M864 225h1V236h-1z"/><path class="r" d="M866 227h1V234h-1z"/><path class="g" d="M868 227h1V233h-1z"/><path class="g" d="M869 224h1V231h-1zM870 226h1V230h-1z"/><path class="g" d="M872 217h1V230h-1zM873 220h1V227h-1z"/><path class="g" d="M873 222h1V230h-1z"/><path class="r" d="M874 224h1V230h-1zM875 226h1V230h-1z"/><path class="r" d="M876 224h1V232h-1z"/><path class="r" d="M877 224h1V230h-1zM878 225h1V228h-1z"/><path class="r" d="M878 223h1V233h-1z"/><path class="g" d="M881 214h1V223h-1zM882 215h1V222h-1z"/><path class="g" d="M882 204h1V221h-1z"/><path class="r" d="M884 200h1V212h-1zM885 200h1V209h-1z"/><path class="r" d="M885 200h1V215h-1z"/><path class="g" d="M886 203h1V212h-1z"/><path class="g" d="M889 184h1V195h-1z"/><path class="r" d="M892 171h1V183h-1zM893 177h1V182h-1z"/><path class="r" d="M893 175h1V191h-1zM894 185h1V189h-1z"/><path class="r" d="M896 182h1V194h-1zM897 186h1V192h-1z"/><path class="r" d="M897 185h1V194h-1z"/><path class="g" d="M898 186h1V198h-1z"/><path class="g" d="M900 191h1V205h-1z"/><path class="g" d="M901 188h1V202h-1z"/><path class="g" d="M902 188h1V203h-1zM903 192h1V197h-1z"/><path class="r" d="M904 191h1V206h-1z"/><path class="r" d="M905 194h1V214h-1zM906 198h1V202h-1z"/><path class="g" d="M906 194h1V205h-1zM907 196h1V200h-1z"/><path class="g" d="M908 193h1V202h-1z"/><path class="r" d="M909 193h1V201h-1zM910 196h1V200h-1z"/><path class="g" d="M912 190h1V204h-1z"/><path class="g" d="M913 190h1V202h-1zM914 192h1V196h-1z"/><path class="g" d="M916 191h1V200h-1z"/><path class="g" d="M917 191h1V198h-1z"/><path class="r" d="M920 187h1V196h-1zM921 190h1V192h-1z"/><path class="g" d="M921 190h1V196h-1z"/><path class="g" d="M923 193h1V198h-1z"/><path class="r" d="M924 195h1V203h-1zM925 197h1V202h-1z"/><path class="r" d="M925 196h1V210h-1zM926 198h1V204h-1z"/><path class="r" d="M927 201h1V218h-1z"/><path class="g" d="M928 204h1V215h-1z"/><path class="g" d="M929 199h1V214h-1z"/><path class="r" d="M932 200h1V210h-1z"/><path class="r" d="M933 199h1V215h-1z"/><path class="g" d="M935 207h1V216h-1z"/><path class="r" d="M936 205h1V218h-1z"/><path class="g" d="M937 210h1V219h-1z"/><path class="r" d="M939 213h1V228h-1z"/><path class="r" d="M940 215h1V233h-1zM941 218h1V224h-1z"/><path class="g" d="M941 221h1V242h-1zM942 226h1V238h-1z"/><path class="g" d="M943 226h1V246h-1zM944 234h1V243h-1z"/><path class="r" d="M944 231h1V251h-1zM945 232h1V242h-1z"/><path class="r" d="M945 233h1V251h-1zM946 238h1V250h-1z"/><path class="r" d="M947 236h1V250h-1zM948 236h1V245h-1z"/><path class="g" d="M948 238h1V251h-1z"/><path class="r" d="M949 239h1V249h-1z"/><path class="r" d="M952 237h1V251h-1zM953 240h1V248h-1z"/><path class="g" d="M953 231h1V246h-1z"/><path class="r" d="M956 227h1V236h-1z"/><path class="g" d="M957 220h1V234h-1zM958 227h1V230h-1z"/><path class="g" d="M960 223h1V231h-1z"/><path class="g" d="M961 223h1V232h-1zM962 225h1V227h-1z"/><path class="g" d="M964 223h1V232h-1zM965 227h1V230h-1z"/><path class="r" d="M965 222h1V231h-1zM966 223h1V228h-1z"/><path class="g" d="M968 224h1V233h-1zM969 227h1V230h-1z"/><path class="g" d="M969 224h1V233h-1zM970 227h1V231h-1z"/><path class="g" d="M971 228h1V234h-1zM972 230h1V233h-1z"/><path class="g" d="M972 226h1V237h-1z"/><path class="r" d="M973 216h1V227h-1z"/><path class="g" d="M975 196h1V219h-1z"/><path class="g" d="M976 183h1V213h-1zM977 194h1V201h-1z"/><path class="g" d="M976 183h1V202h-1zM977 196h1V201h-1z"/><path class="g" d="M977 188h1V205h-1z"/><path class="r" d="M979 191h1V205h-1zM980 192h1V196h-1z"/><path class="r" d="M980 191h1V203h-1zM981 193h1V197h-1z"/><path class="r" d="M981 191h1V204h-1z"/><path class="g" d="M984 213h1V242h-1z"/><path class="r" d="M985 226h1V240h-1zM986 227h1V233h-1z"/><path class="g" d="M988 225h1V242h-1zM989 230h1V235h-1z"/><path class="g" d="M989 226h1V237h-1zM990 227h1V231h-1z"/><path class="g" d="M991 218h1V234h-1z"/><path class="g" d="M992 216h1V232h-1z"/><path class="g" d="M993 220h1V231h-1zM994 220h1V228h-1z"/><path class="g" d="M996 224h1V233h-1zM997 226h1V231h-1z"/><path class="r" d="M997 227h1V235h-1z"/><path class="r" d="M999 229h1V237h-1zM1000 233h1V236h-1z"/><path class="g" d="M1001 237h1V249h-1z"/><path class="r" d="M1003 228h1V240h-1z"/><path class="g" d="M1004 204h1V248h-1zM1005 222h1V229h-1z"/><path class="r" d="M1005 200h1V213h-1zM1006 206h1V212h-1z"/><path class="r" d="M1007 194h1V204h-1z"/><path class="g" d="M1008 195h1V201h-1z"/><path class="r" d="M1011 186h1V194h-1zM1012 187h1V190h-1z"/><path class="g" d="M1012 184h1V195h-1z"/><path class="r" d="M1013 180h1V193h-1z"/><path class="r" d="M1015 185h1V194h-1z"/><path class="r" d="M1016 185h1V195h-1zM1017 187h1V193h-1z"/><path class="r" d="M1017 188h1V197h-1z"/><path class="r" d="M1020 182h1V189h-1z"/><path class="r" d="M1021 176h1V185h-1z"/><path class="g" d="M1023 169h1V179h-1zM1024 171h1V175h-1z"/><path class="g" d="M1024 164h1V172h-1z"/><path class="r" d="M1025 158h1V171h-1z"/><path class="r" d="M1028 153h1V166h-1z"/><path class="g" d="M1029 155h1V163h-1z"/><path class="r" d="M1032 146h1V154h-1z"/><path class="g" d="M1033 136h1V149h-1z"/><path class="r" d="M1035 130h1V147h-1z"/><path class="g" d="M1037 121h1V140h-1zM1038 130h1V137h-1z"/><path class="g" d="M1039 131h1V141h-1zM1040 132h1V136h-1z"/><path class="g" d="M1041 134h1V143h-1zM1042 136h1V140h-1z"/><path class="r" d="M1044 131h1V147h-1zM1045 133h1V139h-1z"/><path class="r" d="M1045 132h1V141h-1zM1046 133h1V137h-1z"/><path class="r" d="M1047 131h1V139h-1z"/><path class="r" d="M1048 132h1V143h-1z"/><path class="g" d="M1049 134h1V147h-1z"/><path class="r" d="M1051 136h1V151h-1z"/><path class="r" d="M1052 135h1V145h-1z"/><path class="g" d="M1053 134h1V148h-1zM1054 137h1V145h-1z"/><path class="r" d="M1055 135h1V149h-1z"/><path class="g" d="M1056 136h1V148h-1z"/><path class="g" d="M1057 137h1V149h-1z"/><path class="g" d="M1059 134h1V143h-1z"/><path class="r" d="M1060 129h1V140h-1z"/><path class="g" d="M1063 124h1V138h-1z"/><path class="g" d="M1065 123h1V133h-1z"/><path class="r" d="M1067 119h1V135h-1z"/><path class="r" d="M1069 135h1V146h-1z"/><path class="r" d="M1071 140h1V159h-1z"/><path class="r" d="M1072 145h1V170h-1zM1073 158h1V168h-1z"/><path class="g" d="M1073 145h1V168h-1z"/><path class="r" d="M1075 153h1V166h-1zM1076 153h1V159h-1z"/><path class="g" d="M1076 147h1V163h-1zM1077 150h1V159h-1z"/><path class="g" d="M1077 141h1V161h-1z"/><path class="r" d="M1079 138h1V156h-1zM1080 145h1V156h-1z"/><path class="g" d="M1080 138h1V152h-1z"/><path class="r" d="M1082 131h1V148h-1zM1083 143h1V148h-1z"/><path class="r" d="M1083 141h1V152h-1zM1084 143h1V150h-1z"/><path class="r" d="M1086 145h1V156h-1z"/><path class="r" d="M1087 147h1V155h-1z"/><path class="r" d="M1088 149h1V158h-1z"/><path class="r" d="M1090 150h1V162h-1z"/><path class="r" d="M1092 156h1V172h-1zM1093 163h1V168h-1z"/><path class="g" d="M1094 162h1V175h-1z"/><path class="g" d="M1095 158h1V182h-1z"/><path class="g" d="M1098 158h1V169h-1z"/><path class="r" d="M1099 153h1V165h-1z"/><path class="g" d="M1100 150h1V163h-1z"/><path class="r" d="M1102 151h1V159h-1zM1103 154h1V159h-1z"/><path class="r" d="M1103 144h1V157h-1zM1104 147h1V154h-1z"/><path class="g" d="M1104 145h1V157h-1z"/><path class="r" d="M1107 144h1V158h-1zM1108 146h1V155h-1z"/><path class="r" d="M1108 148h1V159h-1zM1109 149h1V153h-1z"/><path class="g" d="M1110 152h1V160h-1zM1111 155h1V158h-1z"/><path class="g" d="M1111 151h1V159h-1z"/><path class="g" d="M1112 148h1V157h-1z"/><path class="r" d="M1115 145h1V161h-1z"/><path class="g" d="M1116 144h1V165h-1z"/><path class="g" d="M1118 140h1V154h-1zM1119 143h1V152h-1z"/><path class="g" d="M1119 135h1V142h-1zM1120 135h1V139h-1z"/><path class="g" d="M1120 134h1V142h-1zM1121 139h1V142h-1z"/><path class="r" d="M1122 128h1V139h-1zM1123 129h1V136h-1z"/><path class="g" d="M1123 126h1V136h-1zM1124 130h1V136h-1z"/><path class="g" d="M1124 126h1V139h-1z"/><path class="g" d="M1127 125h1V141h-1z"/><path class="g" d="M1128 131h1V144h-1z"/><path class="r" d="M1130 132h1V149h-1zM1131 133h1V139h-1z"/><path class="r" d="M1131 123h1V139h-1z"/><path class="g" d="M1134 101h1V116h-1zM1135 104h1V112h-1z"/><path class="g" d="M1134 78h1V132h-1z"/><path class="g" d="M1135 85h1V99h-1zM1136 88h1V92h-1z"/><path class="g" d="M1138 68h1V80h-1zM1139 70h1V75h-1z"/><path class="g" d="M1140 71h1V79h-1zM1141 76h1V78h-1z"/><path class="g" d="M1142 72h1V78h-1z"/><path class="g" d="M1143 68h1V76h-1zM1144 70h1V73h-1z"/><path class="g" d="M1144 64h1V74h-1z"/><path class="r" d="M1146 55h1V72h-1z"/><path class="r" d="M1148 64h1V80h-1zM1149 68h1V77h-1z"/><path class="r" d="M1151 109h1V131h-1zM1152 113h1V125h-1z"/><path class="r" d="M1152 111h1V127h-1z"/><path class="r" d="M1154 120h1V156h-1zM1155 134h1V141h-1z"/><path class="g" d="M1155 129h1V156h-1z"/><path class="r" d="M1156 130h1V166h-1zM1157 142h1V164h-1z"/><path class="r" d="M1158 137h1V174h-1zM1159 141h1V158h-1z"/><path class="g" d="M1159 141h1V165h-1zM1160 148h1V160h-1z"/><path class="r" d="M1162 139h1V154h-1z"/><path class="g" d="M1163 146h1V157h-1z"/><path class="r" d="M1164 144h1V158h-1z"/><path class="g" d="M1166 144h1V155h-1z"/><path class="g" d="M1167 144h1V154h-1z"/><path class="g" d="M1168 139h1V149h-1zM1169 146h1V149h-1z"/><path class="r" d="M1171 136h1V162h-1z"/><path class="r" d="M1172 132h1V167h-1z"/><path class="r" d="M1172 132h1V168h-1z"/><path class="g" d="M1174 153h1V172h-1zM1175 157h1V163h-1z"/><path class="g" d="M1176 159h1V178h-1zM1177 162h1V171h-1z"/><path class="g" d="M1179 148h1V164h-1z"/><path class="g" d="M1180 146h1V158h-1z"/><path class="g" d="M1183 137h1V152h-1z"/><path class="r" d="M1184 141h1V154h-1zM1185 141h1V150h-1z"/><path class="g" d="M1187 143h1V160h-1z"/><path class="g" d="M1188 145h1V156h-1zM1189 149h1V155h-1z"/><path class="r" d="M1190 145h1V160h-1zM1191 147h1V151h-1z"/><path class="g" d="M1192 142h1V153h-1zM1193 145h1V150h-1z"/><path class="r" d="M1194 141h1V156h-1zM1195 146h1V151h-1z"/><path class="g" d="M1195 140h1V151h-1z"/><path class="g" d="M1196 132h1V146h-1z"/><path class="g" d="M1198 136h1V146h-1z"/><path class="r" d="M1200 136h1V150h-1zM1201 137h1V144h-1z"/><path class="r" d="M1202 142h1V160h-1z"/><path class="r" d="M1203 141h1V172h-1z"/><path class="r" d="M1204 144h1V172h-1z"/><path class="g" d="M1207 131h1V147h-1zM1208 138h1V144h-1z"/><path class="g" d="M1208 122h1V140h-1zM1209 127h1V133h-1z"/><path class="g" d="M1210 114h1V131h-1z"/><path class="g" d="M1211 112h1V127h-1z"/><path class="r" d="M1212 113h1V126h-1z"/><path class="g" d="M1214 115h1V123h-1z"/><path class="r" d="M1215 103h1V118h-1z"/><path class="g" d="M1216 100h1V110h-1z"/><path class="r" d="M1218 104h1V114h-1z"/><path class="r" d="M1219 101h1V112h-1z"/><path class="r" d="M1222 98h1V119h-1zM1223 100h1V110h-1z"/><path class="r" d="M1223 102h1V130h-1zM1224 112h1V121h-1z"/><path class="r" d="M1224 101h1V121h-1z"/><path class="r" d="M1226 111h1V123h-1z"/><path class="g" d="M1228 95h1V118h-1z"/><path class="g" d="M1230 94h1V112h-1z"/><path class="g" d="M1231 87h1V100h-1z"/><path class="r" d="M1234 79h1V90h-1z"/><path class="r" d="M1235 44h1V75h-1zM1236 46h1V57h-1z"/><path class="g" d="M1236 33h1V76h-1zM1237 50h1V58h-1z"/><path class="g" d="M1238 29h1V46h-1zM1239 34h1V42h-1z"/><path class="g" d="M1240 31h1V45h-1zM1241 38h1V43h-1z"/><path class="g" d="M1242 24h1V40h-1z"/><path class="r" d="M1243 24h1V36h-1zM1244 29h1V32h-1z"/><path class="r" d="M1246 14h1V28h-1z"/><path class="r" d="M1249 22h1V36h-1zM1250 27h1V36h-1z"/><path class="r" d="M1250 30h1V43h-1zM1251 31h1V39h-1z"/><path class="r" d="M1251 31h1V43h-1z"/><path class="g" d="M1253 26h1V42h-1zM1254 34h1V41h-1z"/><path class="r" d="M1254 29h1V44h-1z"/><path class="r" d="M1257 33h1V52h-1z"/><path class="g" d="M1258 26h1V44h-1z"/><path class="r" d="M1261 10h1V28h-1z"/><path class="g" d="M1262 11h1V25h-1z"/><path class="r" d="M1265 8h1V27h-1z"/><path class="g" d="M1266 4h1V20h-1zM1267 6h1V16h-1z"/><path class="g" d="M1267 0h1V8h-1zM1268 4h1V8h-1z"/><path class="g" d="M1269 5h1V21h-1z"/><path class="g" d="M1271 24h1V46h-1z"/><path class="g" d="M1273 31h1V52h-1zM1274 31h1V43h-1z"/><path class="r" d="M1275 43h1V53h-1zM1276 49h1V51h-1z"/><path class="r" d="M1278 48h1V65h-1z"/><path class="r" d="M1281 61h1V80h-1z"/><path class="r" d="M1282 68h1V86h-1z"/><path class="r" d="M1283 65h1V90h-1zM1284 78h1V88h-1z"/><path class="r" d="M1285 65h1V93h-1z"/><path class="r" d="M1286 73h1V91h-1z"/><path class="g" d="M1289 88h1V100h-1z"/><path class="g" d="M1290 92h1V106h-1z"/><path class="r" d="M1291 94h1V107h-1zM1292 98h1V105h-1z"/><path class="g" d="M1293 94h1V111h-1z"/><path class="r" d="M1294 88h1V105h-1zM1295 96h1V102h-1z"/><path class="r" d="M1295 82h1V94h-1z"/><path class="r" d="M1296 54h1V92h-1zM1297 69h1V76h-1z"/><path class="r" d="M1297 84h1V91h-1z"/><path class="g" d="M1299 84h1V92h-1z"/><path class="g" d="M1301 76h1V87h-1zM1302 79h1V82h-1z"/><path class="g" d="M1302 74h1V85h-1z"/><path class="g" d="M1303 63h1V77h-1zM1304 67h1V74h-1z"/><path class="r" d="M1305 63h1V74h-1zM1306 69h1V74h-1z"/><path class="g" d="M1306 64h1V74h-1zM1307 68h1V73h-1z"/><path class="g" d="M1307 60h1V72h-1zM1308 62h1V68h-1z"/><path class="g" d="M1309 60h1V69h-1z"/><path class="g" d="M1310 55h1V68h-1zM1311 62h1V67h-1z"/><path class="r" d="M1311 54h1V62h-1zM1312 56h1V61h-1z"/><path class="r" d="M1313 51h1V66h-1z"/><path class="r" d="M1314 57h1V68h-1z"/><path class="g" d="M1315 56h1V68h-1z"/><path class="g" d="M1318 52h1V76h-1z"/><path class="r" d="M1319 43h1V57h-1z"/><path class="r" d="M1321 46h1V58h-1z"/><path class="r" d="M1323 52h1V72h-1zM1324 57h1V71h-1z"/><path class="r" d="M1326 67h1V84h-1zM1327 68h1V75h-1z"/><path class="g" d="M1327 77h1V92h-1zM1328 83h1V91h-1z"/><path class="r" d="M1329 72h1V88h-1z"/><path class="g" d="M1330 70h1V87h-1z"/><path class="g" d="M1331 71h1V85h-1zM1332 78h1V85h-1z"/><path class="r" d="M1333 73h1V85h-1zM1334 77h1V80h-1z"/><path class="g" d="M1334 73h1V83h-1z"/><path class="g" d="M1337 68h1V77h-1z"/><path class="g" d="M1338 66h1V74h-1zM1339 67h1V71h-1z"/><path class="r" d="M1339 58h1V71h-1z"/><path class="g" d="M1341 54h1V64h-1z"/><path class="r" d="M1342 47h1V60h-1zM1343 51h1V57h-1z"/><path class="r" d="M1345 61h1V71h-1zM1346 62h1V67h-1z"/><path class="r" d="M1346 64h1V74h-1z"/><path class="r" d="M1349 74h1V92h-1z"/><path class="g" d="M1350 73h1V95h-1zM1351 80h1V92h-1z"/><path class="g" d="M1351 74h1V95h-1zM1352 75h1V86h-1z"/><path class="r" d="M1353 78h1V104h-1zM1354 79h1V92h-1z"/><path class="g" d="M1354 81h1V101h-1zM1355 91h1V98h-1z"/><path class="g" d="M1357 85h1V97h-1zM1358 86h1V92h-1z"/><path class="g" d="M1358 83h1V98h-1z"/><path class="r" d="M1359 86h1V97h-1zM1360 88h1V95h-1z"/><path class="g" d="M1361 85h1V94h-1z"/><path class="r" d="M1362 85h1V94h-1zM1363 87h1V92h-1z"/><path class="r" d="M1363 85h1V97h-1zM1364 90h1V96h-1z"/><path class="r" d="M1365 87h1V94h-1z"/><path class="r" d="M1366 88h1V98h-1zM1367 91h1V98h-1z"/><path class="r" d="M1367 92h1V98h-1zM1368 93h1V97h-1z"/><path class="g" d="M1369 91h1V99h-1zM1370 95h1V98h-1z"/><path class="r" d="M1370 90h1V100h-1zM1371 96h1V100h-1z"/><path class="r" d="M1371 88h1V97h-1z"/><path class="g" d="M1373 85h1V94h-1zM1374 88h1V92h-1z"/><path class="r" d="M1374 100h1V117h-1z"/><path class="r" d="M1375 106h1V130h-1z"/><path class="g" d="M1377 113h1V134h-1z"/><path class="r" d="M1378 122h1V141h-1zM1379 123h1V132h-1z"/><path class="r" d="M1379 129h1V163h-1z"/><path class="r" d="M1381 127h1V191h-1z"/><path class="r" d="M1382 162h1V193h-1zM1383 178h1V189h-1z"/><path class="g" d="M1383 178h1V200h-1zM1384 189h1V195h-1z"/><path class="r" d="M1385 194h1V214h-1zM1386 195h1V202h-1z"/><path class="g" d="M1386 173h1V195h-1zM1387 173h1V183h-1z"/><path class="r" d="M1389 144h1V167h-1zM1390 156h1V165h-1z"/><path class="r" d="M1390 160h1V177h-1zM1391 171h1V177h-1z"/><path class="g" d="M1391 174h1V190h-1zM1392 177h1V183h-1z"/><path class="r" d="M1393 178h1V195h-1z"/><path class="g" d="M1394 180h1V207h-1zM1395 184h1V196h-1z"/><path class="g" d="M1397 168h1V192h-1z"/><path class="g" d="M1399 157h1V174h-1z"/><path class="g" d="M1401 153h1V169h-1z"/><path class="r" d="M1402 142h1V161h-1z"/><path class="r" d="M1403 126h1V149h-1z"/><path class="g" d="M1405 141h1V152h-1z"/><path class="r" d="M1406 142h1V153h-1zM1407 147h1V152h-1z"/><path class="r" d="M1407 134h1V153h-1zM1408 134h1V147h-1z"/><path class="r" d="M1409 139h1V163h-1z"/><path class="g" d="M1411 140h1V156h-1zM1412 146h1V151h-1z"/><path class="r" d="M1413 138h1V154h-1zM1414 141h1V150h-1z"/><path class="g" d="M1414 125h1V152h-1zM1415 131h1V140h-1z"/><path class="r" d="M1416 130h1V151h-1zM1417 131h1V144h-1z"/><path class="r" d="M1417 143h1V157h-1z"/><path class="r" d="M1418 157h1V191h-1z"/><path class="r" d="M1421 162h1V183h-1z"/><path class="r" d="M1422 160h1V177h-1z"/><path class="r" d="M1424 153h1V174h-1zM1425 165h1V170h-1z"/><path class="r" d="M1426 159h1V173h-1zM1427 161h1V169h-1z"/><path class="g" d="M1428 164h1V174h-1z"/><path class="g" d="M1429 165h1V177h-1zM1430 165h1V171h-1z"/><path class="g" d="M1430 146h1V169h-1z"/><path class="r" d="M1433 155h1V170h-1z"/><path class="g" d="M1434 162h1V176h-1z"/><path class="g" d="M1437 176h1V189h-1z"/><path class="r" d="M1438 181h1V195h-1z"/><path class="g" d="M1441 190h1V203h-1z"/><path class="r" d="M1442 194h1V204h-1z"/><path class="r" d="M1445 201h1V218h-1z"/><path class="g" d="M1446 210h1V223h-1zM1447 214h1V221h-1z"/><path class="r" d="M1449 215h1V231h-1zM1450 219h1V229h-1z"/><path class="r" d="M1450 220h1V246h-1zM1451 227h1V240h-1z"/><path class="r" d="M1452 223h1V239h-1z"/><path class="g" d="M1453 223h1V235h-1z"/><path class="g" d="M1454 220h1V239h-1z"/><path class="g" d="M1456 219h1V237h-1z"/><path class="g" d="M1457 217h1V235h-1zM1458 229h1V233h-1z"/><path class="r" d="M1458 211h1V228h-1z"/><path class="r" d="M1460 208h1V221h-1zM1461 208h1V217h-1z"/><path class="g" d="M1461 194h1V214h-1zM1462 195h1V201h-1z"/><path class="g" d="M1462 193h1V206h-1zM1463 200h1V205h-1z"/><path class="g" d="M1464 195h1V208h-1z"/><path class="g" d="M1465 189h1V204h-1z"/><path class="g" d="M1466 175h1V192h-1zM1467 177h1V187h-1z"/><path class="g" d="M1468 163h1V183h-1z"/><path class="r" d="M1470 161h1V172h-1z"/><path class="g" d="M1472 156h1V173h-1z"/><path class="g" d="M1473 160h1V172h-1z"/><path class="g" d="M1474 161h1V179h-1zM1475 168h1V176h-1z"/><path class="g" d="M1476 164h1V179h-1zM1477 166h1V177h-1z"/><path class="g" d="M1477 151h1V167h-1z"/><path class="g" d="M1478 134h1V157h-1z"/><path class="r" d="M1480 137h1V153h-1z"/><path class="g" d="M1481 145h1V155h-1z"/><path class="r" d="M1482 142h1V151h-1zM1483 145h1V150h-1z"/><path class="g" d="M1484 141h1V150h-1z"/><path class="g" d="M1485 140h1V150h-1z"/><path class="r" d="M1488 133h1V143h-1z"/><path class="g" d="M1489 130h1V141h-1z"/><path class="g" d="M1492 129h1V141h-1z"/><path class="r" d="M1493 126h1V134h-1z"/><path class="g" d="M1494 109h1V125h-1z"/><path class="g" d="M1495 91h1V122h-1z"/><path class="g" d="M1496 91h1V117h-1z"/><path class="g" d="M1498 100h1V110h-1z"/><path class="g" d="M1500 100h1V106h-1z"/><path class="r" d="M1501 99h1V106h-1z"/><path class="r" d="M1502 98h1V104h-1z"/><path class="g" d="M1504 96h1V100h-1zM1505 96h1V99h-1z"/><path class="r" d="M1505 93h1V100h-1z"/><path class="r" d="M1506 92h1V98h-1z"/><path class="g" d="M1508 93h1V99h-1z"/><path class="r" d="M1509 89h1V96h-1zM1510 92h1V95h-1z"/><path class="g" d="M1510 83h1V92h-1z"/><path class="g" d="M1513 78h1V86h-1zM1514 80h1V83h-1z"/><path class="g" d="M1514 79h1V85h-1z"/><path class="r" d="M1516 75h1V89h-1z"/><path class="r" d="M1517 82h1V93h-1zM1518 83h1V89h-1z"/><path class="r" d="M1518 86h1V98h-1zM1519 88h1V93h-1z"/><path class="g" d="M1520 87h1V101h-1zM1521 89h1V97h-1z"/><path class="r" d="M1521 85h1V94h-1z"/><path class="g" d="M1522 81h1V88h-1z"/><path class="g" d="M1524 76h1V84h-1zM1525 79h1V83h-1z"/><path class="g" d="M1525 72h1V81h-1zM1526 72h1V75h-1z"/><path class="g" d="M1526 71h1V78h-1z"/><path class="g" d="M1528 71h1V78h-1z"/><path class="r" d="M1529 70h1V83h-1z"/><path class="r" d="M1530 69h1V90h-1zM1531 76h1V84h-1z"/><path class="g" d="M1532 71h1V83h-1zM1533 75h1V79h-1z"/><path class="r" d="M1533 74h1V85h-1zM1534 79h1V83h-1z"/><path class="g" d="M1534 76h1V84h-1z"/><path class="r" d="M1536 75h1V84h-1zM1537 78h1V84h-1z"/><path class="g" d="M1538 69h1V76h-1z"/><path class="g" d="M1540 65h1V73h-1z"/><path class="g" d="M1541 58h1V69h-1zM1542 62h1V67h-1z"/><path class="g" d="M1542 52h1V65h-1zM1543 54h1V63h-1z"/><path class="r" d="M1544 52h1V60h-1z"/><path class="r" d="M1545 53h1V63h-1z"/><path class="r" d="M1546 53h1V59h-1z"/><path class="g" d="M1549 49h1V57h-1zM1550 54h1V57h-1z"/><path class="r" d="M1550 46h1V56h-1zM1551 48h1V54h-1z"/><path class="r" d="M1552 44h1V53h-1zM1553 48h1V53h-1z"/><path class="g" d="M1553 42h1V49h-1zM1554 42h1V47h-1z"/><path class="r" d="M1554 40h1V47h-1zM1555 41h1V44h-1z"/><path class="r" d="M1557 40h1V47h-1z"/><path class="g" d="M1558 36h1V46h-1z"/><path class="r" d="M1561 31h1V41h-1z"/><path class="r" d="M1563 37h1V61h-1zM1564 45h1V52h-1z"/><path class="r" d="M1564 42h1V53h-1zM1565 42h1V50h-1z"/><path class="g" d="M1565 44h1V69h-1zM1566 53h1V66h-1z"/><path class="r" d="M1566 45h1V80h-1zM1567 58h1V66h-1z"/><path class="r" d="M1566 64h1V80h-1z"/><path class="r" d="M1568 73h1V84h-1z"/><path class="g" d="M1569 75h1V87h-1zM1570 80h1V87h-1z"/><path class="r" d="M1570 76h1V88h-1zM1571 77h1V85h-1z"/><path class="g" d="M1572 78h1V89h-1z"/><path class="g" d="M1573 83h1V100h-1z"/><path class="r" d="M1574 94h1V113h-1z"/><path class="r" d="M1576 87h1V124h-1zM1577 92h1V110h-1z"/><path class="r" d="M1578 115h1V125h-1zM1579 120h1V123h-1z"/><path class="r" d="M1580 113h1V122h-1z"/><path class="g" d="M1581 113h1V121h-1zM1582 118h1V120h-1z"/><path class="g" d="M1584 116h1V126h-1z"/><path class="g" d="M1585 116h1V125h-1z"/><path class="g" d="M1587 122h1V131h-1z"/><path class="r" d="M1589 130h1V138h-1zM1590 132h1V137h-1z"/><path class="r" d="M1591 132h1V141h-1zM1592 137h1V140h-1z"/><path class="r" d="M1593 143h1V154h-1z"/><path class="r" d="M1595 148h1V155h-1zM1596 149h1V153h-1z"/><path class="g" d="M1597 152h1V165h-1z"/><path class="r" d="M1599 148h1V158h-1z"/><path class="g" d="M1600 138h1V149h-1z"/><path class="g" d="M1601 140h1V148h-1zM1602 141h1V144h-1z"/><path class="r" d="M1603 128h1V149h-1z"/><path class="g" d="M1605 144h1V150h-1z"/><path class="g" d="M1607 148h1V156h-1z"/><path class="r" d="M1608 151h1V167h-1zM1609 151h1V156h-1z"/><path class="g" d="M1609 153h1V166h-1z"/><path class="r" d="M1611 157h1V167h-1z"/><path class="g" d="M1612 153h1V158h-1z"/><path class="g" d="M1613 147h1V155h-1z"/><path class="g" d="M1615 143h1V155h-1z"/><path class="g" d="M1616 143h1V156h-1z"/></g><g fill="#8e8e8e"><rect x="0" y="173" width="1771" height="1"/><rect x="0" y="252" width="1771" height="1"/></g><g shape-rendering="geometricPrecision" stroke="#858585" stroke-width="5" stroke-linecap="round" stroke-linejoin="round" fill="none"><path d="M12 695.5 L1677 179.3"/><path d="M1659 175.2 L1678 179.3 L1664.5 192.5"/></g><g font-size="16" fill="#bebebe"><text x="1770" y="56">35,000</text><text x="1770" y="122">30,000</text><text x="1770" y="200">25,000</text><text x="1770" y="296">20,000</text><text x="1770" y="420">15,000</text><text x="1770" y="595">10,000</text></g><rect x="1766" y="152" width="4" height="1" fill="#b0b0b0"/><rect x="1770.5" y="142.5" width="60" height="18" fill="#ffff00" stroke="#000" stroke-width="1"/><text x="1772" y="156" font-size="16" fill="#000">27,800</text><g font-size="16" fill="#bebebe"><text x="-5.5" y="838">01.10.</text><text x="76.5" y="838">2015</text><text x="162.5" y="838">01.04.</text><text x="244.5" y="838">01.07.</text><text x="333.5" y="838">01.10.</text><text x="418.5" y="838">2016</text><text x="502.5" y="838">01.04.</text><text x="588.5" y="838">01.07.</text><text x="677.5" y="838">04.10.</text><text x="762.5" y="838">2017</text><text x="850.5" y="838">03.04.</text><text x="932.5" y="838">03.07.</text><text x="1020.5" y="838">02.10.</text><text x="1103.5" y="838">2018</text><text x="1188.5" y="838">03.04.</text><text x="1271.5" y="838">02.07.</text><text x="1358.5" y="838">01.10.</text><text x="1440.5" y="838">2019</text><text x="1525.5" y="838">01.04.</text><text x="1607.5" y="838">01.07.</text><text x="1697.5" y="838">01.10.</text></g><text x="5" y="25" font-size="16" letter-spacing="0.06" fill="#bebebe">JENOPTIK AG NA O.N. (A2NB60) (JEN)</text><text x="5" y="43" font-size="16" fill="#bebebe">1 Tag</text>
</svg></body></html>
